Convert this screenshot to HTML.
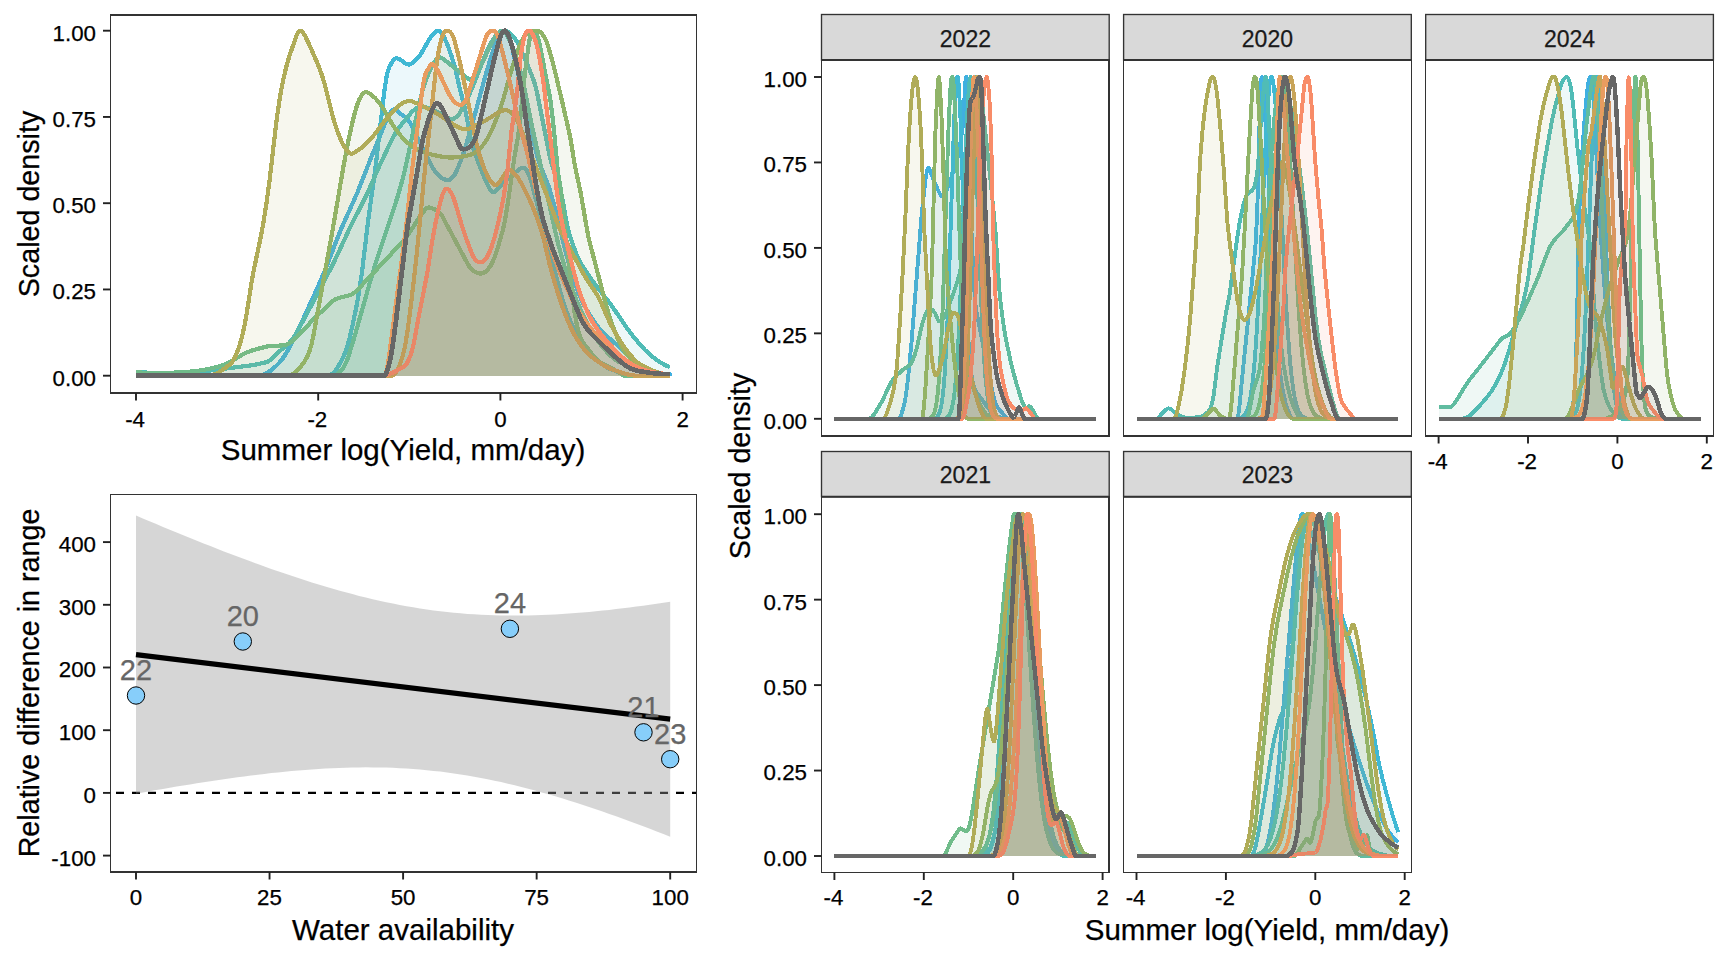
<!DOCTYPE html>
<html><head><meta charset="utf-8"><title>Summer yield density</title>
<style>
html,body{margin:0;padding:0;background:#fff;}
body{width:1728px;height:960px;overflow:hidden;}
svg{display:block;}
text{font-family:"Liberation Sans", sans-serif;fill:#000;stroke:#000;stroke-width:0.25px;}
.tick{font-size:22.3px;}
.title{font-size:29.5px;}
.rtitle{font-size:28.7px;}
.strip{font-size:23px;fill:#1a1a1a;stroke:#1a1a1a;}
.lab{font-size:29px;fill:#666;stroke:#666;}
</style></head><body>
<svg width="1728" height="960" viewBox="0 0 1728 960">
<rect x="0" y="0" width="1728" height="960" fill="#fff"/>
<g id="density-all">
<clipPath id="cpA"><rect x="110.5" y="15" width="586" height="378"/></clipPath><g clip-path="url(#cpA)" shape-rendering="crispEdges">
<path d="M136,375.7L136,375.7 259,375.7 262.2,375.1 264.4,374.3 266.5,373.3 270.8,370.5 275.1,366.9 279.4,362.6 282.6,358.6 285.8,353.8 289,348.3 299.7,326.5 313.6,296.3 321.1,279.5 325.4,269.4 337.1,239 341.4,228.4 357.5,192.3 371.4,156.9 385.3,122.7 388.5,115.7 390.6,112.1 391.7,110.8 392.8,109.8 393.8,109.3 394.9,109.2 396,109.6 401.3,114.5 405.6,117.3 407.7,119.3 409.9,122.5 430.2,163.1 432.3,167.1 434.5,170.4 436.6,173.2 438.8,175.5 440.9,177.3 443,178.7 445.2,179.6 447.3,180.2 448.4,180.2 449.5,179.8 450.5,179.3 451.6,178.4 453.7,175.9 454.8,174.3 456.9,170.2 461.2,159.6 464.4,150.4 471.9,125.1 485.8,74.4 490.1,60.1 494.4,46.8 496.5,41.7 500.8,33.4 501.9,31.9 503,31 504,30.7 505.1,31 506.2,31.8 507.2,33.2 508.3,35.2 509.4,37.8 510.4,41.2 516.9,67.7 530.8,130.3 537.2,156.2 540.4,166.1 546.8,181.3 550,190.3 555.4,209.8 566.1,253.6 570.4,269.5 572.5,276.4 575.7,285.7 578.9,293.9 582.1,301.2 586.4,309.4 591.7,317.9 597.1,325.7 601.4,331 605.7,335.2 618.5,346.1 631.3,358.9 635.6,362.8 639.9,366 644.2,368.7 648.4,370.9 652.7,372.7 657,373.9 661.3,374.5 665.6,374.6 669.8,374.3 669.8,375.7" fill="#40B0E0" fill-opacity="0.1" stroke="#40B0E0" stroke-width="4.2" stroke-linejoin="round"/>
<path d="M136,375.7L136,375.7 327.5,375.7 328.6,375.6 330.7,374.8 332.8,373.3 335,371.1 338.2,366.6 341.4,360.8 344.6,353.8 346.8,348.2 348.9,340.8 352.1,327.3 356.4,306.7 358.5,295.3 361.7,274.4 368.2,220.2 375.6,166.6 384.2,92.3 386.3,78.1 387.4,73.1 388.5,69.3 389.6,66.5 391.7,62.6 393.8,59.8 394.9,58.9 396,58.4 397,58.3 399.2,59 405.6,63.5 407.7,64.4 408.8,64.5 409.9,64.3 413.1,62.5 415.2,60.7 417.4,58.5 420.6,54.4 422.7,50.9 429.1,39.4 432.3,34.8 434.5,32.6 435.6,31.7 437.7,30.8 438.8,30.7 439.8,31.1 440.9,32 442,33.3 444.1,37 448.4,47.2 451.6,56.3 453.7,63.2 455.9,71.2 459.1,85.6 464.4,106.5 466.6,116.7 469.8,134.5 471.9,144 475.1,154 481.6,171 486.9,183.6 490.1,189.6 491.2,191 492.3,191.9 493.3,192.4 494.4,192.2 497.6,189.4 505.1,181.7 510.4,176.7 516.9,171.2 520.1,168.6 521.1,168 522.2,167.7 523.3,167.7 524.3,168.1 525.4,168.9 526.5,170.2 527.6,171.9 528.6,174.1 530.8,180.1 531.8,183.9 559.7,289.6 563.9,304.1 568.2,315.9 572.5,325.8 577.8,336.2 583.2,344.9 586.4,349.3 589.6,353.1 595,358.3 600.3,363 604.6,366.1 607.8,368 616.4,371.3 621.7,373 626,374.2 630.3,375.1 633.5,375.5 636.7,375.7 669.8,375.7 669.8,375.7" fill="#40B8D4" fill-opacity="0.1" stroke="#40B8D4" stroke-width="4.2" stroke-linejoin="round"/>
<path d="M136,375.7L136,372.2 152,372.8 166,373 178.8,372.8 191.6,372.2 201.3,371.4 210.9,370.4 250.5,365.4 256.9,364.4 264.4,362.7 267.6,361.8 268.7,361.2 271.9,358.7 278.3,352.3 287.9,344.2 291.1,340.8 293.3,338 297.5,331 304,319.2 331.8,266.5 337.1,255.5 350,227.6 363.9,200.3 368.2,191.4 379.9,164.9 389.6,144.3 393.8,135.9 398.1,129.1 405.6,119.3 410.9,113 413.1,110.8 415.2,109 417.4,107.7 419.5,106.8 421.6,106.6 423.8,106.9 425.9,107.4 429.1,108.5 437.7,112.3 446.3,117.2 449.5,118.7 451.6,119 453.7,118.6 455.9,117.4 456.9,116.5 459.1,114 461.2,110.6 464.4,104.8 467.6,98.2 474.1,83.5 485.8,53.5 488,48.7 490.1,44.6 493.3,39.3 495.5,36.4 497.6,33.9 499.7,32 500.8,31.4 503,30.7 504,30.7 505.1,30.8 507.2,31.5 510.4,33.6 513.7,36.9 515.8,39.8 516.9,41.5 520.1,48 525.4,60 530.8,72.9 534,81.3 536.1,88.7 537.2,93.4 550,157.6 552.2,165.4 558.6,183.2 560.7,190.9 562.9,201.5 566.1,219.8 568.2,230 570.4,237.2 573.6,246.7 576.8,254.9 578.9,259.6 581,263.7 583.2,267.2 592.8,281.2 598.2,288.4 612.1,306.2 626,326.8 632.4,335.3 637.8,341.9 645.2,350.2 649.5,354.2 653.8,357.8 658.1,360.9 662.4,363.6 666.6,365.8 669.8,367.1 669.8,375.7Z" fill="#50BCB6" fill-opacity="0.1"/>
<path d="M136,372.2 152,372.8 166,373 178.8,372.8 191.6,372.2 201.3,371.4 210.9,370.4 250.5,365.4 256.9,364.4 264.4,362.7 267.6,361.8 268.7,361.2 271.9,358.7 278.3,352.3 287.9,344.2 291.1,340.8 293.3,338 297.5,331 304,319.2 331.8,266.5 337.1,255.5 350,227.6 363.9,200.3 368.2,191.4 379.9,164.9 389.6,144.3 393.8,135.9 398.1,129.1 405.6,119.3 410.9,113 413.1,110.8 415.2,109 417.4,107.7 419.5,106.8 421.6,106.6 423.8,106.9 425.9,107.4 429.1,108.5 437.7,112.3 446.3,117.2 449.5,118.7 451.6,119 453.7,118.6 455.9,117.4 456.9,116.5 459.1,114 461.2,110.6 464.4,104.8 467.6,98.2 474.1,83.5 485.8,53.5 488,48.7 490.1,44.6 493.3,39.3 495.5,36.4 497.6,33.9 499.7,32 500.8,31.4 503,30.7 504,30.7 505.1,30.8 507.2,31.5 510.4,33.6 513.7,36.9 515.8,39.8 516.9,41.5 520.1,48 525.4,60 530.8,72.9 534,81.3 536.1,88.7 537.2,93.4 550,157.6 552.2,165.4 558.6,183.2 560.7,190.9 562.9,201.5 566.1,219.8 568.2,230 570.4,237.2 573.6,246.7 576.8,254.9 578.9,259.6 581,263.7 583.2,267.2 592.8,281.2 598.2,288.4 612.1,306.2 626,326.8 632.4,335.3 637.8,341.9 645.2,350.2 649.5,354.2 653.8,357.8 658.1,360.9 662.4,363.6 666.6,365.8 669.8,367.1" fill="none" stroke="#50BCB6" stroke-width="4.2" stroke-linejoin="round"/>
<path d="M136,375.7L136,375.7 331.8,375.7 333.9,375.5 336.1,374.8 338.2,373.6 339.3,372.7 341.4,370.4 342.5,369 344.6,365.4 346.8,360.8 348.9,355.2 355.3,334 370.3,281 374.6,266.6 393.8,208.7 398.1,195.1 402.4,179.9 405.6,166.8 414.2,126.9 421.6,93.8 423.8,86.2 425.9,79.8 430.2,69.5 433.4,63.4 435.6,60.3 437.7,58.3 438.8,57.8 439.8,57.5 440.9,57.7 442,58.2 449.5,63.8 464.4,75.9 468.7,79.1 469.8,79.5 470.9,79.4 471.9,78.9 474.1,76.8 477.3,71.7 483.7,59.7 491.2,43.7 494.4,37.8 496.5,34.7 498.7,32.3 500.8,31 501.9,30.7 503,30.8 504,31.4 505.1,32.4 506.2,33.8 508.3,37.6 510.4,42.3 514.7,53.1 516.9,59.1 519,65.9 521.1,73.7 523.3,82.9 531.8,125.2 555.4,232.2 558.6,245.6 563.9,264.4 570.4,283.9 573.6,292.7 576.8,300.9 582.1,313 586.4,321.6 590.7,329.5 595,336.7 598.2,341.4 602.4,346.9 607.8,353 612.1,357.1 615.3,359.7 618.5,361.7 623.8,364.2 638.8,369.8 644.2,372 646.3,373 650.6,375.6 669.8,375.7 669.8,375.7" fill="#60BCA0" fill-opacity="0.1" stroke="#60BCA0" stroke-width="4.2" stroke-linejoin="round"/>
<path d="M136,375.7L136,372.2 144.6,372.8 153.1,373 162.7,373 172.4,372.7 184.1,372.1 191.6,371.5 199.1,370.6 206.6,369.3 216.2,367.2 221.6,365.6 224.8,364.5 230.1,361.9 244.1,353.7 247.3,352.2 251.5,350.7 259,348.5 268.7,346.1 271.9,345.7 279.4,345.6 282.6,345.3 285.8,344.7 289,343.4 292.2,341.3 296.5,337.5 300.8,333.1 312.5,320.2 324.3,308.9 332.8,301 335,299.6 338.2,298.1 341.4,297.2 347.8,295.8 351,294.7 354.2,292.8 356.4,291 373.5,272.9 403.5,240.6 405.6,238 408.8,233.6 418.4,218.8 422.7,212.7 425.9,208.8 427,208 428.1,207.6 429.1,207.5 431.3,208.1 434.5,209.3 436.6,210.4 438.8,212 439.8,213 442,215.8 467.6,263.7 469.8,267.3 470.9,268.7 471.9,269.8 474.1,271.4 476.2,272.4 479.4,273.5 480.5,273.6 482.6,273.3 483.7,272.9 485.8,271.5 488,269.4 490.1,266.5 492.3,262.7 494.4,257.6 497.6,248.3 500.8,237.4 503,229.4 505.1,219.8 508.3,200.1 514.7,155.4 517.9,137.4 520.1,119.8 524.3,79 528.6,45.1 529.7,39.2 530.8,34.8 531.8,32 532.9,30.8 534,30.8 535,31.6 536.1,33.1 537.2,35.4 538.3,38.5 539.3,42.5 550,97.4 552.2,114.1 554.3,133.9 557.5,167.6 558.6,176.2 560.7,189.3 561.8,197.2 570.4,276.8 573.6,304.6 574.6,312.3 576.8,324.4 577.8,329.1 580,336.1 582.1,340.9 584.3,344.2 593.9,356.4 597.1,359.9 599.2,361.6 601.4,362.9 617.4,371.4 619.6,372.8 622.8,375.3 623.8,375.7 669.8,375.7 669.8,375.7Z" fill="#70BC8A" fill-opacity="0.1"/>
<path d="M136,372.2 144.6,372.8 153.1,373 162.7,373 172.4,372.7 184.1,372.1 191.6,371.5 199.1,370.6 206.6,369.3 216.2,367.2 221.6,365.6 224.8,364.5 230.1,361.9 244.1,353.7 247.3,352.2 251.5,350.7 259,348.5 268.7,346.1 271.9,345.7 279.4,345.6 282.6,345.3 285.8,344.7 289,343.4 292.2,341.3 296.5,337.5 300.8,333.1 312.5,320.2 324.3,308.9 332.8,301 335,299.6 338.2,298.1 341.4,297.2 347.8,295.8 351,294.7 354.2,292.8 356.4,291 373.5,272.9 403.5,240.6 405.6,238 408.8,233.6 418.4,218.8 422.7,212.7 425.9,208.8 427,208 428.1,207.6 429.1,207.5 431.3,208.1 434.5,209.3 436.6,210.4 438.8,212 439.8,213 442,215.8 467.6,263.7 469.8,267.3 470.9,268.7 471.9,269.8 474.1,271.4 476.2,272.4 479.4,273.5 480.5,273.6 482.6,273.3 483.7,272.9 485.8,271.5 488,269.4 490.1,266.5 492.3,262.7 494.4,257.6 497.6,248.3 500.8,237.4 503,229.4 505.1,219.8 508.3,200.1 514.7,155.4 517.9,137.4 520.1,119.8 524.3,79 528.6,45.1 529.7,39.2 530.8,34.8 531.8,32 532.9,30.8 534,30.8 535,31.6 536.1,33.1 537.2,35.4 538.3,38.5 539.3,42.5 550,97.4 552.2,114.1 554.3,133.9 557.5,167.6 558.6,176.2 560.7,189.3 561.8,197.2 570.4,276.8 573.6,304.6 574.6,312.3 576.8,324.4 577.8,329.1 580,336.1 582.1,340.9 584.3,344.2 593.9,356.4 597.1,359.9 599.2,361.6 601.4,362.9 617.4,371.4 619.6,372.8 622.8,375.3 623.8,375.7 669.8,375.7" fill="none" stroke="#70BC8A" stroke-width="4.2" stroke-linejoin="round"/>
<path d="M136,375.7L136,375.7 287.9,375.7 289,375.6 291.1,375.1 293.3,373.9 295.4,372.2 297.5,370.1 300.8,366.3 304,362.1 306.1,358.8 308.2,354.4 309.3,351.6 311.5,344.4 313.6,334.6 326.4,264.3 333.9,222.6 343.5,166.2 347.8,143.5 352.1,123.8 355.3,111 356.4,107.3 358.5,101.3 359.6,98.9 361.7,95.2 362.8,93.9 363.9,93 364.9,92.4 366,92.2 367.1,92.3 368.2,92.7 370.3,94.1 374.6,97.5 377.8,100.9 381,105.1 384.2,110.2 392.8,125 396,129.6 400.2,135.1 404.5,139.9 407.7,143 412,146.1 417.4,149.3 423.8,152.2 430.2,154.2 438.8,156.2 447.3,157.4 452.7,157.5 459.1,157 466.6,155.7 471.9,154.3 474.1,153.2 477.3,150.9 480.5,147.9 483.7,144.2 485.8,141.1 488,137.5 490.1,133.4 493.3,126.5 497.6,116 500.8,107 504,96.7 510.4,73.5 513.7,62.7 517.9,49.9 521.1,42 522.2,39.9 524.3,36.6 525.4,35.2 527.6,33.2 528.6,32.5 530.8,31.4 532.9,30.9 535,30.7 537.2,30.8 538.3,31.1 540.4,32.2 542.5,34.3 544.7,37.6 546.8,42.4 547.9,45.4 552.2,60.4 555.4,73.1 562.9,104.7 570.4,138 574.6,164.1 581,194.5 586.4,226 588.5,237.2 589.6,241.9 605.7,303.7 609.9,317.9 614.2,330 617.4,337.9 619.6,342.5 621.7,346.7 623.8,350.3 626,353.4 628.1,356 631.3,359.1 635.6,362.9 639.9,366 643.1,368 646.3,369.6 651.7,371.7 657,373.5 661.3,374.6 665.6,375.4 669.8,375.7 669.8,375.7" fill="#90B468" fill-opacity="0.1" stroke="#90B468" stroke-width="4.2" stroke-linejoin="round"/>
<path d="M136,375.7L136,375.7 207.7,375.7 210.9,375.4 214.1,374.5 218.4,372.5 222.7,369.9 229.1,365.2 231.2,363.1 232.3,361.8 234.4,358.2 235.5,356.1 237.6,350.9 239.8,344.5 241.9,336.8 244.1,327.7 246.2,316.6 251.5,282.6 253.7,270.3 260.1,240.3 263.3,223.5 266.5,202.8 269.7,179.4 275.1,132.7 277.2,115.6 280.4,94.4 282.6,82.8 285.8,68.8 287.9,60.9 290.1,53.9 296.5,35.8 297.5,33.5 298.6,31.7 299.7,30.7 300.8,30.7 301.8,31.1 302.9,32.4 305,35.7 308.2,42.3 317.9,64.3 321.1,72.7 323.2,79.2 325.4,87 332.8,116.9 335,123.8 338.2,133.2 341.4,141.1 344.6,147.4 346.8,150.5 347.8,151.7 350,153.3 351,153.6 352.1,153.6 354.2,152.7 359.6,149.3 364.9,144.9 369.2,140.7 372.4,137.1 386.3,119 391.7,112.9 397,107.5 400.2,104.7 403.5,102.6 406.7,101.3 408.8,100.9 409.9,101 412,101.4 416.3,103.1 421.6,105.5 428.1,108.8 438.8,114.7 451.6,123.3 455.9,125.9 460.2,128 462.3,128.8 464.4,129.3 467.6,129.1 469.8,128.5 471.9,127.6 479.4,123.5 485.8,120.3 497.6,113 500.8,111.3 503,110.5 505.1,110 507.2,110.4 509.4,111.4 511.5,113.2 513.7,115.6 516.9,120.5 519,124.6 522.2,131.8 540.4,178.7 555.4,218.1 558.6,226.2 560.7,231.1 563.9,237.5 584.3,275.3 587.5,280.4 595,291.5 598.2,296.9 601.4,303.5 606.7,315.8 609.9,322.8 614.2,330.8 618.5,338.2 623.8,346.5 629.2,353.7 634.5,359.8 638.8,363.6 641,365 644.2,366.7 652.7,370.5 659.1,372.7 665.6,374.6 669.8,375.7 669.8,375.7" fill="#B0AC58" fill-opacity="0.1" stroke="#B0AC58" stroke-width="4.2" stroke-linejoin="round"/>
<path d="M136,375.7L136,375.7 390.6,375.7 391.7,375.6 392.8,375.3 393.8,374.6 394.9,373.6 397,370.6 399.2,366.1 402.4,356.9 404.5,348.3 405.6,342.8 407.7,329.6 410.9,305.5 416.3,258.3 419.5,226.3 423.8,180.1 435.6,71.8 437.7,56.5 438.8,50.4 440.9,40.8 442,37.3 443,34.6 444.1,32.6 445.2,31.3 446.3,30.7 447.3,30.7 449.5,31.5 450.5,32.4 451.6,33.7 452.7,35.6 453.7,38.2 454.8,41.6 458,54 461.2,67.9 468.7,104.2 474.1,132.4 476.2,142.7 479.4,154.6 482.6,164.4 484.8,170.1 488,177 490.1,180.5 492.3,183.1 494.4,184.8 495.5,185 496.5,184.7 497.6,184 498.7,183 500.8,180.1 504,175.1 506.2,172.1 507.2,171 508.3,170.2 509.4,169.8 510.4,169.9 511.5,170.6 514.7,173.7 517.9,177.7 522.2,184.7 526.5,193.2 531.8,204.8 536.1,215.3 539.3,224.4 541.5,231.2 543.6,238.9 550,265.9 552.2,274 557.5,292.1 562.9,308.1 567.1,319.4 570.4,326.8 573.6,333.3 577.8,340.5 581,345.2 584.3,349.5 587.5,353.1 590.7,356.1 596,360.1 601.4,363.8 606.7,367 611,368.9 624.9,373.7 629.2,374.8 633.5,375.5 636.7,375.7 669.8,375.7 669.8,375.7" fill="#C8A458" fill-opacity="0.1" stroke="#C8A458" stroke-width="4.2" stroke-linejoin="round"/>
<path d="M136,375.7L136,375.7 385.3,375.7 386.3,372 388.5,360.5 404.5,239.3 406.7,221.3 412,170.6 421.6,95.5 423.8,80.7 424.9,75.8 425.9,72.8 430.2,65.4 431.3,64 432.3,63.7 434.5,65.7 437.7,70.5 440.9,76.7 448.4,93 451.6,98.4 454.8,102.2 456.9,103.8 459.1,104.8 460.2,105 461.2,104.9 462.3,104.4 463.4,103.6 464.4,102.4 465.5,100.7 467.6,95.8 485.8,37.4 486.9,35 488,33.3 489,32.1 491.2,30.7 492.3,30.7 494.4,30.7 495.5,31.7 496.5,33.2 497.6,35.5 498.7,38.6 501.9,49.7 505.1,62.3 510.4,84.6 519,123.1 526.5,150.4 541.5,213.3 545.7,230 549,241.4 554.3,257.9 559.7,272 566.1,286.7 573.6,302.2 577.8,309.9 582.1,316.7 589.6,326.9 595,333.5 599.2,338.1 605.7,344.1 613.1,350.5 620.6,356.4 627.1,361 633.5,365.1 638.8,368 644.2,370.2 649.5,371.9 655.9,373.2 662.4,373.8 669.8,374 669.8,375.7Z" fill="#E89C60" fill-opacity="0.1"/>
<path d="M136,375.7 385.3,375.7 386.3,372 388.5,360.5 404.5,239.3 406.7,221.3 412,170.6 421.6,95.5 423.8,80.7 424.9,75.8 425.9,72.8 430.2,65.4 431.3,64 432.3,63.7 434.5,65.7 437.7,70.5 440.9,76.7 448.4,93 451.6,98.4 454.8,102.2 456.9,103.8 459.1,104.8 460.2,105 461.2,104.9 462.3,104.4 463.4,103.6 464.4,102.4 465.5,100.7 467.6,95.8 485.8,37.4 486.9,35 488,33.3 489,32.1 491.2,30.7 492.3,30.7 494.4,30.7 495.5,31.7 496.5,33.2 497.6,35.5 498.7,38.6 501.9,49.7 505.1,62.3 510.4,84.6 519,123.1 526.5,150.4 541.5,213.3 545.7,230 549,241.4 554.3,257.9 559.7,272 566.1,286.7 573.6,302.2 577.8,309.9 582.1,316.7 589.6,326.9 595,333.5 599.2,338.1 605.7,344.1 613.1,350.5 620.6,356.4 627.1,361 633.5,365.1 638.8,368 644.2,370.2 649.5,371.9 655.9,373.2 662.4,373.8 669.8,374" fill="none" stroke="#E89C60" stroke-width="4.2" stroke-linejoin="round"/>
<path d="M136,375.7L136,375.7 382.1,375.7 384.2,375.5 386.3,375.1 390.6,373.6 393.8,372.1 401.3,368.2 404.5,366 406.7,363.5 408.8,359.7 410.9,354.2 413.1,346.4 415.2,335.9 418.4,318 427,274.6 432.3,240.4 435.6,222.7 437.7,212.8 440.9,199.8 443,193.3 444.1,191 445.2,189.5 446.3,188.8 447.3,188.8 448.4,189.4 449.5,190.4 450.5,191.8 452.7,195.9 454.8,201.7 462.3,226.9 466.6,239.7 471.9,253.8 473,256 475.1,259.4 477.3,261.4 479.4,262.3 481.6,262.2 482.6,261.9 483.7,261.2 484.8,260.2 486.9,257.3 489,253.2 491.2,248 494.4,237.9 497.6,225.5 500.8,211.4 504,194.7 507.2,173 511.5,131 516.9,94.4 520.1,61.4 521.1,53.3 522.2,46.8 523.3,41.4 524.3,37.1 525.4,34 526.5,31.8 527.6,30.7 529.7,30.7 530.8,31.5 532.9,34.5 535,39.4 536.1,42.7 538.3,51.6 541.5,69.8 543.6,83.9 556.4,188.3 558.6,203.3 560.7,215.9 562.9,226.8 565,236.3 574.6,274.7 577.8,286.2 580,293 582.1,299.1 584.3,304.5 588.5,314.2 591.7,320.5 595,325.8 599.2,331.8 604.6,338.7 608.9,343.7 618.5,353.8 624.9,359.6 629.2,362.8 634.5,366 638.8,368 644.2,369.9 651.7,371.9 658.1,373.1 664.5,373.8 669.8,374 669.8,375.7Z" fill="#F88C68" fill-opacity="0.1"/>
<path d="M136,375.7 382.1,375.7 384.2,375.5 386.3,375.1 390.6,373.6 393.8,372.1 401.3,368.2 404.5,366 406.7,363.5 408.8,359.7 410.9,354.2 413.1,346.4 415.2,335.9 418.4,318 427,274.6 432.3,240.4 435.6,222.7 437.7,212.8 440.9,199.8 443,193.3 444.1,191 445.2,189.5 446.3,188.8 447.3,188.8 448.4,189.4 449.5,190.4 450.5,191.8 452.7,195.9 454.8,201.7 462.3,226.9 466.6,239.7 471.9,253.8 473,256 475.1,259.4 477.3,261.4 479.4,262.3 481.6,262.2 482.6,261.9 483.7,261.2 484.8,260.2 486.9,257.3 489,253.2 491.2,248 494.4,237.9 497.6,225.5 500.8,211.4 504,194.7 507.2,173 511.5,131 516.9,94.4 520.1,61.4 521.1,53.3 522.2,46.8 523.3,41.4 524.3,37.1 525.4,34 526.5,31.8 527.6,30.7 529.7,30.7 530.8,31.5 532.9,34.5 535,39.4 536.1,42.7 538.3,51.6 541.5,69.8 543.6,83.9 556.4,188.3 558.6,203.3 560.7,215.9 562.9,226.8 565,236.3 574.6,274.7 577.8,286.2 580,293 582.1,299.1 584.3,304.5 588.5,314.2 591.7,320.5 595,325.8 599.2,331.8 604.6,338.7 608.9,343.7 618.5,353.8 624.9,359.6 629.2,362.8 634.5,366 638.8,368 644.2,369.9 651.7,371.9 658.1,373.1 664.5,373.8 669.8,374" fill="none" stroke="#F88C68" stroke-width="4.2" stroke-linejoin="round"/>
<path d="M136,375.7L136,375.7 384.2,375.7 385.3,375.4 387.4,370.1 389.6,362.3 391.7,351.6 392.8,344.9 396,320.8 405.6,241.2 407.7,225.6 409.9,212.3 416.3,177.3 420.6,151.4 422.7,139.8 424.9,131.4 429.1,117.7 432.3,109.2 434.5,104.9 435.6,103.6 436.6,103.2 437.7,103.3 438.8,103.9 439.8,104.9 440.9,106.3 443,110.1 451.6,128.2 459.1,144.6 460.2,146.9 461.2,148.4 462.3,149.1 463.4,149.2 466.6,148.8 468.7,147.8 470.9,145.9 473,143 474.1,141 476.2,135.7 477.3,132.2 481.6,114.3 493.3,62.9 497.6,46.1 499.7,38.5 500.8,35.5 501.9,33.2 503,31.6 504,30.8 505.1,30.7 506.2,31.5 507.2,33 508.3,35 509.4,37.6 511.5,44.2 513.7,52.2 516.9,65.5 520.1,80.5 523.3,99.9 527.6,131.4 535,178.1 539.3,203.2 542.5,217.8 544.7,225.3 546.8,231.9 553.2,250.2 573.6,301.2 581,319.1 583.2,323.1 586.4,328 589.6,331.9 592.8,335.3 602.4,344.9 616.4,358 622.8,363.5 627.1,366.6 630.3,368.3 633.5,369.6 636.7,370.6 641,371.4 650.6,372.9 658.1,373.7 664.5,374.1 669.8,374 669.8,375.7Z" fill="#666666" fill-opacity="0.1"/>
<path d="M136,375.7 384.2,375.7 385.3,375.4 387.4,370.1 389.6,362.3 391.7,351.6 392.8,344.9 396,320.8 405.6,241.2 407.7,225.6 409.9,212.3 416.3,177.3 420.6,151.4 422.7,139.8 424.9,131.4 429.1,117.7 432.3,109.2 434.5,104.9 435.6,103.6 436.6,103.2 437.7,103.3 438.8,103.9 439.8,104.9 440.9,106.3 443,110.1 451.6,128.2 459.1,144.6 460.2,146.9 461.2,148.4 462.3,149.1 463.4,149.2 466.6,148.8 468.7,147.8 470.9,145.9 473,143 474.1,141 476.2,135.7 477.3,132.2 481.6,114.3 493.3,62.9 497.6,46.1 499.7,38.5 500.8,35.5 501.9,33.2 503,31.6 504,30.8 505.1,30.7 506.2,31.5 507.2,33 508.3,35 509.4,37.6 511.5,44.2 513.7,52.2 516.9,65.5 520.1,80.5 523.3,99.9 527.6,131.4 535,178.1 539.3,203.2 542.5,217.8 544.7,225.3 546.8,231.9 553.2,250.2 573.6,301.2 581,319.1 583.2,323.1 586.4,328 589.6,331.9 592.8,335.3 602.4,344.9 616.4,358 622.8,363.5 627.1,366.6 630.3,368.3 633.5,369.6 636.7,370.6 641,371.4 650.6,372.9 658.1,373.7 664.5,374.1 669.8,374" fill="none" stroke="#666666" stroke-width="4.7" stroke-linejoin="round"/>
</g>
<rect x="110.5" y="15" width="586.0" height="378" fill="none" stroke="#333333" stroke-width="1.5" shape-rendering="crispEdges"/>
<line x1="103.0" y1="375.7" x2="110.5" y2="375.7" stroke="#222" stroke-width="1.9"/>
<text class="tick" x="96.0" y="385.6" text-anchor="end">0.00</text>
<line x1="103.0" y1="289.45" x2="110.5" y2="289.45" stroke="#222" stroke-width="1.9"/>
<text class="tick" x="96.0" y="299.3" text-anchor="end">0.25</text>
<line x1="103.0" y1="203.2" x2="110.5" y2="203.2" stroke="#222" stroke-width="1.9"/>
<text class="tick" x="96.0" y="213.1" text-anchor="end">0.50</text>
<line x1="103.0" y1="116.94999999999999" x2="110.5" y2="116.94999999999999" stroke="#222" stroke-width="1.9"/>
<text class="tick" x="96.0" y="126.8" text-anchor="end">0.75</text>
<line x1="103.0" y1="30.69999999999999" x2="110.5" y2="30.69999999999999" stroke="#222" stroke-width="1.9"/>
<text class="tick" x="96.0" y="40.6" text-anchor="end">1.00</text>
<line x1="136.0" y1="393" x2="136.0" y2="400.5" stroke="#222" stroke-width="1.9"/>
<text class="tick" x="135.1" y="426.9" text-anchor="middle">-4</text>
<line x1="318.2" y1="393" x2="318.2" y2="400.5" stroke="#222" stroke-width="1.9"/>
<text class="tick" x="317.3" y="426.9" text-anchor="middle">-2</text>
<line x1="500.4" y1="393" x2="500.4" y2="400.5" stroke="#222" stroke-width="1.9"/>
<text class="tick" x="500.4" y="426.9" text-anchor="middle">0</text>
<line x1="682.5999999999999" y1="393" x2="682.5999999999999" y2="400.5" stroke="#222" stroke-width="1.9"/>
<text class="tick" x="682.6" y="426.9" text-anchor="middle">2</text>
<text class="title" x="403" y="459.8" text-anchor="middle">Summer log(Yield, mm/day)</text>
<text class="rtitle" transform="translate(38.5,204) rotate(-90)" text-anchor="middle">Scaled density</text>
</g>
<g id="regression">
<line x1="110.5" y1="792.9" x2="696.5" y2="792.9" stroke="#000" stroke-width="2.2" stroke-dasharray="8 8" stroke-dashoffset="10.5"/>
<path d="M136.0,515.5 L142.8,518.4 L149.5,521.2 L156.3,524.1 L163.0,526.9 L169.8,529.7 L176.6,532.5 L183.3,535.3 L190.1,538.0 L196.9,540.7 L203.6,543.4 L210.4,546.1 L217.1,548.7 L223.9,551.4 L230.7,554.0 L237.4,556.5 L244.2,559.1 L251.0,561.6 L257.7,564.1 L264.5,566.5 L271.2,568.9 L278.0,571.2 L284.8,573.6 L291.5,575.8 L298.3,578.1 L305.1,580.3 L311.8,582.4 L318.6,584.5 L325.3,586.5 L332.1,588.5 L338.9,590.4 L345.6,592.3 L352.4,594.1 L359.1,595.9 L365.9,597.5 L372.7,599.2 L379.4,600.7 L386.2,602.2 L393.0,603.6 L399.7,604.9 L406.5,606.2 L413.2,607.3 L420.0,608.4 L426.8,609.4 L433.5,610.4 L440.3,611.2 L447.1,612.0 L453.8,612.7 L460.6,613.3 L467.3,613.9 L474.1,614.3 L480.9,614.7 L487.6,615.1 L494.4,615.3 L501.1,615.5 L507.9,615.6 L514.7,615.6 L521.4,615.5 L528.2,615.4 L535.0,615.3 L541.7,615.0 L548.5,614.7 L555.2,614.4 L562.0,614.0 L568.8,613.6 L575.5,613.0 L582.3,612.5 L589.1,611.9 L595.8,611.3 L602.6,610.6 L609.3,609.9 L616.1,609.1 L622.9,608.3 L629.6,607.5 L636.4,606.6 L643.2,605.7 L649.9,604.8 L656.7,603.8 L663.4,602.8 L670.2,601.8 L670.2,836.7 L663.4,834.0 L656.7,831.4 L649.9,828.8 L643.2,826.2 L636.4,823.7 L629.6,821.2 L622.9,818.7 L616.1,816.3 L609.3,813.9 L602.6,811.5 L595.8,809.2 L589.1,806.9 L582.3,804.7 L575.5,802.5 L568.8,800.4 L562.0,798.3 L555.2,796.3 L548.5,794.3 L541.7,792.4 L535.0,790.5 L528.2,788.7 L521.4,786.9 L514.7,785.3 L507.9,783.7 L501.1,782.1 L494.4,780.7 L487.6,779.3 L480.9,777.9 L474.1,776.7 L467.3,775.5 L460.6,774.4 L453.8,773.4 L447.1,772.5 L440.3,771.6 L433.5,770.9 L426.8,770.2 L420.0,769.5 L413.2,769.0 L406.5,768.5 L399.7,768.2 L393.0,767.8 L386.2,767.6 L379.4,767.4 L372.7,767.4 L365.9,767.3 L359.1,767.4 L352.4,767.5 L345.6,767.7 L338.9,767.9 L332.1,768.2 L325.3,768.5 L318.6,768.9 L311.8,769.4 L305.1,769.9 L298.3,770.5 L291.5,771.1 L284.8,771.7 L278.0,772.4 L271.2,773.1 L264.5,773.9 L257.7,774.7 L251.0,775.5 L244.2,776.4 L237.4,777.3 L230.7,778.2 L223.9,779.2 L217.1,780.2 L210.4,781.2 L203.6,782.2 L196.9,783.3 L190.1,784.4 L183.3,785.5 L176.6,786.6 L169.8,787.8 L163.0,788.9 L156.3,790.1 L149.5,791.3 L142.8,792.6 L136.0,793.8 Z" fill="#999999" fill-opacity="0.4"/>
<line x1="136.0" y1="654.6" x2="670.2" y2="719.2" stroke="#000" stroke-width="5.3"/>
<circle cx="136.0" cy="695.5" r="8.7" fill="#87CEFA" stroke="#000" stroke-width="1"/>
<circle cx="242.8" cy="641.5" r="8.7" fill="#87CEFA" stroke="#000" stroke-width="1"/>
<circle cx="509.9" cy="628.8" r="8.7" fill="#87CEFA" stroke="#000" stroke-width="1"/>
<circle cx="643.5" cy="732.3" r="8.7" fill="#87CEFA" stroke="#000" stroke-width="1"/>
<circle cx="670.2" cy="759.2" r="8.7" fill="#87CEFA" stroke="#000" stroke-width="1"/>
<text class="lab" x="136.0" y="680.0" text-anchor="middle">22</text>
<text class="lab" x="242.8" y="626.0" text-anchor="middle">20</text>
<text class="lab" x="509.9" y="613.3" text-anchor="middle">24</text>
<text class="lab" x="643.5" y="716.8" text-anchor="middle">21</text>
<text class="lab" x="670.2" y="743.7" text-anchor="middle">23</text>
<rect x="110.5" y="494.5" width="586.0" height="377.5" fill="none" stroke="#333333" stroke-width="1.5" shape-rendering="crispEdges"/>
<line x1="103.0" y1="855.6" x2="110.5" y2="855.6" stroke="#222" stroke-width="1.9"/>
<text class="tick" x="96.0" y="865.5" text-anchor="end">-100</text>
<line x1="103.0" y1="792.9" x2="110.5" y2="792.9" stroke="#222" stroke-width="1.9"/>
<text class="tick" x="96.0" y="802.8" text-anchor="end">0</text>
<line x1="103.0" y1="730.1999999999999" x2="110.5" y2="730.1999999999999" stroke="#222" stroke-width="1.9"/>
<text class="tick" x="96.0" y="740.1" text-anchor="end">100</text>
<line x1="103.0" y1="667.5" x2="110.5" y2="667.5" stroke="#222" stroke-width="1.9"/>
<text class="tick" x="96.0" y="677.4" text-anchor="end">200</text>
<line x1="103.0" y1="604.8" x2="110.5" y2="604.8" stroke="#222" stroke-width="1.9"/>
<text class="tick" x="96.0" y="614.7" text-anchor="end">300</text>
<line x1="103.0" y1="542.0999999999999" x2="110.5" y2="542.0999999999999" stroke="#222" stroke-width="1.9"/>
<text class="tick" x="96.0" y="552.0" text-anchor="end">400</text>
<line x1="136.0" y1="872" x2="136.0" y2="879.5" stroke="#222" stroke-width="1.9"/>
<text class="tick" x="136.0" y="905.0" text-anchor="middle">0</text>
<line x1="269.54999999999995" y1="872" x2="269.54999999999995" y2="879.5" stroke="#222" stroke-width="1.9"/>
<text class="tick" x="269.5" y="905.0" text-anchor="middle">25</text>
<line x1="403.09999999999997" y1="872" x2="403.09999999999997" y2="879.5" stroke="#222" stroke-width="1.9"/>
<text class="tick" x="403.1" y="905.0" text-anchor="middle">50</text>
<line x1="536.65" y1="872" x2="536.65" y2="879.5" stroke="#222" stroke-width="1.9"/>
<text class="tick" x="536.6" y="905.0" text-anchor="middle">75</text>
<line x1="670.1999999999999" y1="872" x2="670.1999999999999" y2="879.5" stroke="#222" stroke-width="1.9"/>
<text class="tick" x="670.2" y="905.0" text-anchor="middle">100</text>
<text class="title" x="403" y="940.2" text-anchor="middle">Water availability</text>
<text class="rtitle" transform="translate(38.5,683) rotate(-90)" text-anchor="middle">Relative difference in range</text>
</g>
<g id="facets">
<g id="facet-2022">
<clipPath id="cp2022"><rect x="821.5" y="60" width="287.7" height="376"/></clipPath><g clip-path="url(#cp2022)" shape-rendering="crispEdges">
<path d="M834.4,418.8L834.4,418.8 898.4,418.8 899,418.8 899.5,418.4 900,417.7 901.1,415.5 903.7,406.5 905.3,399 906.8,388.7 908.4,374.9 911.6,341.3 921.5,216.6 924.7,186.4 925.7,178.1 926.8,171.8 927.8,168.3 928.4,167.8 928.9,168.2 930.5,171.7 934.1,181.1 938.3,190.6 939.9,193.8 941.5,196.1 942.5,196.8 943.1,196.8 943.6,196.5 944.6,195.2 946.2,191.9 952.5,174.3 955.7,164.5 957.8,157.4 959.3,149.5 962.5,128.7 963,123.9 965.1,87 965.6,79.6 966.2,77 966.7,77.1 967.2,83.4 967.7,93.7 968.8,123 969.3,143.3 970.4,199.9 970.9,217.5 973,265.9 974,285.2 975.1,300.2 976.1,310.3 976.7,313.4 984.5,351.3 991.9,389.3 994,398.5 995.6,403.3 997.1,406.6 998.7,408.8 1001.3,411.7 1005.5,416.9 1007.1,418.2 1008.2,418.7 1096.3,418.8 1096.3,418.8" fill="#40B0E0" fill-opacity="0.1" stroke="#40B0E0" stroke-width="3.9" stroke-linejoin="round"/>
<path d="M834.4,418.8L834.4,418.8 934.1,418.8 936.2,417.5 937.3,416.7 938.3,415.2 939.4,413 940.4,409.7 941.5,404.8 943.1,393.3 944.6,375.2 946.2,348.7 947.3,325.8 948.8,283.9 954.1,121.8 955.7,90.2 956.7,79 957.2,77 957.8,77 958.3,79.9 958.8,85.3 960.4,115.5 965.6,277.8 967.2,317.3 968.3,337.9 969.3,354 970.9,370.8 972.5,381.1 973.5,385.4 974.6,388.4 975.6,390.6 977.2,393.1 987.7,407.6 991.4,411.9 994,414.3 996.6,416 999.8,417.3 1003.4,418.2 1004,418.7 1004.5,418.8 1096.3,418.8 1096.3,418.8" fill="#40B8D4" fill-opacity="0.1" stroke="#40B8D4" stroke-width="3.9" stroke-linejoin="round"/>
<path d="M834.4,418.8L834.4,418.8 945.2,418.8 948.3,416.3 949.4,414.9 950.4,412.8 951.5,409.7 952.5,405.5 953.6,399.6 954.6,391.8 956.2,375.6 957.8,352.8 959.3,322.7 960.9,285.5 965.1,167.5 967.2,115.5 968.8,88.9 969.8,79.1 970.4,77 970.9,77 971.4,77.9 971.9,81.1 973,92.9 974,110.9 975.6,147.2 980.9,293 982.4,328.9 984,357.6 985.6,379.1 987.2,394.3 988.7,404.4 989.8,408.9 990.8,412.2 991.9,414.5 992.9,416 994,417.1 996.6,418.8 1096.3,418.8 1096.3,418.8" fill="#50BCB6" fill-opacity="0.1" stroke="#50BCB6" stroke-width="3.9" stroke-linejoin="round"/>
<path d="M834.4,418.8L834.4,418.8 868.5,418.8 870.1,418.3 871.7,417.2 873.2,415.5 875.3,412.6 881.6,402.1 883.7,397.9 889.5,385.2 891.1,382.3 892.7,379.9 895.3,376.9 898.4,373.8 902.6,370.1 909.5,365.2 910.5,364.2 911.6,362.6 912.6,360.4 914.2,356.5 916.8,348.3 921.5,326.6 923.1,320.9 925.2,314.9 926.3,312.6 927.3,310.8 928.4,309.7 928.9,309.3 929.9,309 931,309.2 932.6,310.2 935.2,313.1 937.8,319.7 938.9,321.3 939.4,321.5 939.9,321.6 941,321.2 942.5,319.8 944.1,317.3 945.7,314 950.4,301.6 956.7,283.6 959.9,272.4 960.9,266.5 962,256.6 963.5,236.8 969.3,150.8 973.5,94.4 975.1,81.1 975.6,78.7 976.1,77.3 976.7,77 977.2,77.3 978.2,79.4 979.3,83.3 980.3,89 981.9,100.9 986.6,143.7 991.4,189.2 995.6,232.4 999.2,288.6 1000.8,304.1 1002.9,320.8 1005.5,337 1010.8,362.4 1016,382.2 1021.3,399.4 1023.4,404.7 1025,407.3 1025.5,407.6 1026,407.8 1027.1,407.4 1029.2,406.3 1030.2,406.5 1031.8,408.5 1036,416.1 1038.1,418 1039.6,418.8 1096.3,418.8 1096.3,418.8" fill="#60BCA0" fill-opacity="0.1" stroke="#60BCA0" stroke-width="3.9" stroke-linejoin="round"/>
<path d="M834.4,418.8L834.4,418.8 929.4,418.8 929.9,418.7 932,416.7 933.1,415.3 934.1,413.1 935.2,409.7 936.2,404.7 937.8,393 939.4,374.6 940.4,357.6 941.5,336.5 943.1,297 947.3,164.3 948.8,119.7 950.4,88.7 951.5,78 952,77 952.5,77 953,79.2 953.6,84.1 955.1,110.8 956.7,150.9 960.9,273 962.5,309.1 964.1,336.4 965.6,355.4 967.2,367.9 968.3,373.6 969.3,377.9 970.9,382.8 972.5,386.7 979.8,403.7 981.9,407.9 984,411.3 986.1,414 988.2,415.8 990.3,417.1 993.5,418.1 994.5,418.8 1096.3,418.8 1096.3,418.8" fill="#70BC8A" fill-opacity="0.1" stroke="#70BC8A" stroke-width="3.9" stroke-linejoin="round"/>
<path d="M834.4,418.8L834.4,418.8 921.5,418.8 922.1,418.2 922.6,416.4 923.6,409.4 925.2,391.6 927.3,358.3 931,291.2 932,266.5 935.2,137 937.3,91.2 938.3,78.4 938.9,77 939.4,79.6 939.9,85.5 941.5,116.4 943.6,177 945.2,240.1 946.2,265.1 947.8,289.6 951.5,332.8 953.6,353.8 955.7,372.3 957.8,387.5 959.9,399.9 962,409.8 963.5,414.5 964.6,416.1 966.2,417.8 967.2,418.5 968.3,418.8 1096.3,418.8 1096.3,418.8" fill="#90B468" fill-opacity="0.1" stroke="#90B468" stroke-width="3.9" stroke-linejoin="round"/>
<path d="M834.4,418.8L834.4,418.8 883.7,418.8 884.3,418.4 884.8,417.8 886.4,414.2 890.6,401.6 892.7,393.7 894.2,386.2 895.8,376.7 896.9,366.3 897.9,352.7 900.5,312.2 902.6,274 905.3,219.3 907.9,155.1 909.5,126.1 911,103.9 912.6,87.5 913.7,80.9 914.2,78.8 914.7,77.5 915.2,77 915.8,77.4 916.3,78.9 916.8,81.5 917.9,89.7 919.4,108.5 920.5,125.9 922.1,160.4 924.2,228.1 929.9,336.4 931,350.3 932,360.2 933.6,370 934.1,372.2 935.2,374.9 935.7,375.5 936.2,375.6 936.8,375.1 938.3,371.8 940.4,366 942,360.6 943.6,354 948.3,328 949.9,320.8 950.9,317.3 952,314.9 953,313.4 953.6,313 954.6,312.8 956.2,313.6 957.2,314.9 958.3,317.1 959.3,320.3 960.9,327.4 965.6,351.6 968.8,366 974,388.8 977.2,400.8 979.3,407.3 981.4,412.6 983.5,416.5 985.1,418.3 985.6,418.6 986.6,418.8 1096.3,418.8 1096.3,418.8" fill="#B0AC58" fill-opacity="0.1" stroke="#B0AC58" stroke-width="3.9" stroke-linejoin="round"/>
<path d="M834.4,418.8L834.4,418.8 958.3,418.8 960.4,416.6 961.4,414.8 962.5,411.7 963.5,406.9 965.1,394.4 966.7,372.9 967.7,352.1 969.8,293.4 974.6,122 976.1,85.7 976.7,79.3 977.2,77 977.7,77 978.2,78.5 978.8,83.2 980.3,110.5 981.9,152.9 986.1,287.3 987.7,328.9 988.7,351.4 989.8,369.7 991.4,389.8 992.9,402.8 994,408.4 995,412.2 996.6,415.6 997.7,416.9 999.8,418.8 1096.3,418.8 1096.3,418.8" fill="#C8A458" fill-opacity="0.1" stroke="#C8A458" stroke-width="3.9" stroke-linejoin="round"/>
<path d="M834.4,418.8L834.4,418.8 955.7,418.8 956.2,418.8 958.3,416.5 959.3,414.4 960.4,410.8 960.9,408.2 962,400.6 962.5,395.3 963.5,381.1 964.6,361.1 966.7,301.1 971.4,116.6 971.9,101.8 973,81.8 973.5,77.3 974,77 974.6,78.5 975.6,89.5 977.2,121.4 978.8,166.6 982.4,284.7 984,326.8 985.1,349.6 986.6,376.1 988.2,394 989.8,405.3 990.8,410.1 991.9,413.4 992.9,415.5 994,416.9 996.6,418.8 1096.3,418.8 1096.3,418.8" fill="#E89C60" fill-opacity="0.1" stroke="#E89C60" stroke-width="3.9" stroke-linejoin="round"/>
<path d="M834.4,418.8L834.4,418.8 962,418.8 962.5,418.6 963.5,416.8 964.6,413.5 965.6,409 968.8,392.2 970.9,373.5 973,347.6 974,330.5 975.1,307.9 980.3,152.1 981.4,125.9 982.4,108.9 984,90.8 985.1,82.3 985.6,79.5 986.1,77.8 986.6,77 987.2,77.8 987.7,80.5 988.2,84.8 989.3,97.3 990.3,115.8 991.9,164.7 992.9,223.7 993.5,241.8 995,285.5 997.1,331.8 998.7,352.6 999.8,362.8 1000.8,370.6 1004,386.2 1006.6,396.5 1007.6,399.3 1010.3,404.1 1011.8,406.5 1013.4,408.1 1015,408.9 1017.1,409.6 1019.2,410.1 1021.3,410.3 1022.9,410 1025.5,408.3 1026,408.2 1026.5,408.5 1028.1,410.1 1031.3,413.9 1033.9,418 1034.9,418.8 1096.3,418.8 1096.3,418.8" fill="#F88C68" fill-opacity="0.1" stroke="#F88C68" stroke-width="3.9" stroke-linejoin="round"/>
<path d="M834.4,418.8L834.4,418.8 958.3,418.8 958.8,417 959.3,411.2 959.9,400.6 964.1,270.9 965.1,226.2 966.7,172.9 968.3,131.3 969.3,112.3 970.4,101.6 970.9,99.7 971.4,99.1 972.5,98.5 973,97.5 975.1,91.1 977.7,79.4 978.2,78.1 978.8,77.4 979.3,77 979.8,77 980.3,77.9 980.9,81.4 981.4,88.6 982.4,117.1 985.6,218.7 989.8,309.2 990.8,327.6 992.4,343.5 995,364.1 996.6,374.8 998.7,383.9 1002.4,396.2 1005,402.9 1008.2,410 1011.3,415.9 1012.4,417.3 1012.9,417.6 1013.4,417.6 1013.9,417.3 1014.5,416.5 1017.1,411.3 1018.1,408.6 1018.7,407.6 1019.2,407.6 1022.3,414.1 1023.9,418.1 1024.4,418.8 1096.3,418.8 1096.3,418.8" fill="#666666" fill-opacity="0.1" stroke="#666666" stroke-width="4.4" stroke-linejoin="round"/>
</g>
<rect x="821.5" y="60" width="287.70000000000005" height="376" fill="none" stroke="#333333" stroke-width="1.5" shape-rendering="crispEdges"/>
<rect x="821.5" y="14.5" width="287.7" height="45.5" fill="#D9D9D9" stroke="#333333" stroke-width="1.35"/>
<line x1="821.5" y1="60" x2="1109.2" y2="60" stroke="#333333" stroke-width="2"/>
<text class="strip" x="965.4" y="46.5" text-anchor="middle">2022</text>
<line x1="814.0" y1="418.8" x2="821.5" y2="418.8" stroke="#222" stroke-width="1.9"/>
<text class="tick" x="807.0" y="428.7" text-anchor="end">0.00</text>
<line x1="814.0" y1="333.35" x2="821.5" y2="333.35" stroke="#222" stroke-width="1.9"/>
<text class="tick" x="807.0" y="343.2" text-anchor="end">0.25</text>
<line x1="814.0" y1="247.9" x2="821.5" y2="247.9" stroke="#222" stroke-width="1.9"/>
<text class="tick" x="807.0" y="257.8" text-anchor="end">0.50</text>
<line x1="814.0" y1="162.45" x2="821.5" y2="162.45" stroke="#222" stroke-width="1.9"/>
<text class="tick" x="807.0" y="172.3" text-anchor="end">0.75</text>
<line x1="814.0" y1="77.0" x2="821.5" y2="77.0" stroke="#222" stroke-width="1.9"/>
<text class="tick" x="807.0" y="86.9" text-anchor="end">1.00</text>
</g>
<g id="facet-2020">
<clipPath id="cp2020"><rect x="1123.6" y="60" width="287.7" height="376"/></clipPath><g clip-path="url(#cp2020)" shape-rendering="crispEdges">
<path d="M1136.5,418.8L1136.5,418.8 1236.8,418.8 1237.3,418.7 1237.8,417.4 1238.9,411.5 1239.9,402.2 1242.5,374.4 1252.5,276.6 1255.7,242.4 1257.2,212.7 1259.3,131.1 1260.4,99.6 1261.4,78.5 1262,77 1262.5,80 1263,85.4 1264.1,99.3 1267.2,150.9 1268.8,181.8 1271.4,246 1273,279.2 1274.6,308.1 1276.7,338.4 1278.8,361.9 1280.9,379 1282.4,388.1 1284.5,398.5 1286.1,405 1287.7,410.1 1290.8,416.7 1291.9,418.2 1292.9,418.8 1398.4,418.8 1398.4,418.8" fill="#40B0E0" fill-opacity="0.1" stroke="#40B0E0" stroke-width="3.9" stroke-linejoin="round"/>
<path d="M1136.5,418.8L1136.5,418.8 1239.4,418.8 1239.9,418.6 1240.4,418 1242.5,417 1244.1,415.7 1245.7,413.5 1247.3,410.1 1248.8,405 1249.9,400.4 1252,387.2 1254.1,367.5 1255.7,347.6 1257.2,323 1259.3,283.2 1264.6,165.2 1266.7,123 1268.3,98.6 1269.3,87 1270.4,79.7 1270.9,77.7 1271.4,77 1271.9,77.2 1272.5,78.6 1273,80.8 1274,88.1 1275.1,98.9 1276.7,120.9 1278.8,158.5 1285.1,286.7 1287.2,322.6 1289.3,351.9 1290.8,369.3 1292.9,387 1295,399.3 1296.1,403.8 1297.7,408.9 1299.2,412.4 1301.3,415.4 1302.9,416.7 1305,417.8 1306.1,418.6 1306.6,418.8 1398.4,418.8 1398.4,418.8" fill="#40B8D4" fill-opacity="0.1" stroke="#40B8D4" stroke-width="3.9" stroke-linejoin="round"/>
<path d="M1136.5,418.8L1136.5,418.8 1157,418.8 1158.5,417.7 1162.2,413.1 1163.3,412 1166.4,409.4 1167.5,408.8 1168.5,408.4 1169.6,408.5 1171.1,409.3 1175.9,413.1 1179,415 1182.2,416.6 1184.8,417.5 1187.4,418 1190,418.1 1199.5,417 1201.1,416.6 1203.2,415.6 1207.4,412.5 1208.9,411 1210.5,408 1212.1,402.9 1213.7,394.9 1217.3,366.2 1226.3,310.7 1229.4,295.6 1237.3,237.5 1239.4,223.6 1241,215.1 1243.6,204.1 1246.2,196.1 1246.7,195 1247.8,193.4 1248.8,192.6 1251.5,191.3 1253,189.2 1254.1,187 1255.1,183.8 1256.7,176 1257.8,167.5 1258.3,161.3 1260.9,121.4 1263,95.1 1264.6,80.8 1265.1,78.1 1265.6,77 1266.2,78.3 1266.7,82.4 1267.7,97.2 1269.3,129.4 1272.5,205.4 1275.1,260.2 1277.2,297.3 1279.3,326.1 1281.4,348.3 1283.5,364.4 1286.1,378.8 1288.2,389 1290.3,397.6 1292.4,403.9 1296.1,411.7 1298.2,415.6 1299.2,417 1300.3,418.1 1301.3,418.7 1301.9,418.8 1398.4,418.8 1398.4,418.8" fill="#50BCB6" fill-opacity="0.1" stroke="#50BCB6" stroke-width="3.9" stroke-linejoin="round"/>
<path d="M1136.5,418.8L1136.5,418.8 1246.7,418.8 1247.3,418.4 1247.8,417.3 1249.4,411.1 1253,392 1254.6,386.5 1257.8,376.9 1259.3,371.1 1260.4,364.1 1261.4,354.2 1263.5,329.2 1264.6,310.8 1265.6,286.7 1267.2,236.7 1268.3,211.5 1270.4,169.5 1271.9,145.5 1274.6,115.4 1276.7,98 1278.2,89.1 1279.8,82.1 1280.9,78.8 1281.9,77 1283,77 1283.5,77.5 1284.5,79.2 1286.1,83.4 1287.7,89.8 1291.9,114.5 1296.1,142.4 1301.9,185.9 1305.5,216.5 1308.2,241.2 1315.5,316.3 1317.1,329.9 1318.7,340.8 1321.3,354.8 1327.1,379.4 1332.8,402 1336.5,414.2 1338.1,417.5 1338.6,418.2 1339.6,418.8 1398.4,418.8 1398.4,418.8" fill="#60BCA0" fill-opacity="0.1" stroke="#60BCA0" stroke-width="3.9" stroke-linejoin="round"/>
<path d="M1136.5,418.8L1136.5,418.8 1249.4,418.8 1250.4,418.1 1252.5,417.2 1254.1,416 1255.7,414 1257.2,410.9 1258.8,406.2 1259.9,401.8 1262,389.5 1264.1,370.8 1265.6,351.8 1267.2,328.1 1269.3,289.4 1275.1,160.3 1277.2,118.9 1278.8,95.6 1279.8,84.9 1280.9,78.4 1281.4,77 1281.9,77 1282.4,77.3 1283,78.6 1284,83.4 1284.5,86.9 1286.1,101.4 1287.7,121.3 1290.3,163.2 1297.1,285.7 1299.2,317.8 1301.3,344.8 1303.4,366.5 1305.5,383.1 1307.6,395.2 1308.7,399.9 1310.3,405.5 1312.4,410.7 1313.4,412.6 1315,414.7 1316,415.7 1317.6,416.8 1320.8,418.1 1321.8,418.8 1398.4,418.8 1398.4,418.8" fill="#70BC8A" fill-opacity="0.1" stroke="#70BC8A" stroke-width="3.9" stroke-linejoin="round"/>
<path d="M1136.5,418.8L1136.5,418.8 1201.6,418.8 1202.6,418.4 1204.2,417.3 1208.9,412.8 1212.1,409.4 1213.7,408.5 1214.2,408.6 1215.2,409.4 1218.9,414.4 1221,416 1223.6,417.6 1225.7,418.7 1228.4,418.8 1228.9,418.5 1229.4,417.2 1230.5,412.4 1232,398.3 1242,275.9 1244.6,230.5 1249.4,138.4 1252,95.1 1252.5,88.5 1253.6,80.2 1254.1,78.1 1254.6,77.1 1255.1,77 1255.7,77.8 1256.2,79.5 1256.7,82.4 1257.8,92.9 1260.9,145 1264.6,217.5 1266.7,254.8 1269.3,293.8 1272.5,332.4 1274,348.2 1275.6,361.6 1277.7,377 1279.3,386.8 1280.9,394.7 1281.9,398.8 1284,405.7 1286.1,411.3 1287.7,414.3 1288.7,415.7 1291.4,418.2 1292.9,418.8 1398.4,418.8 1398.4,418.8" fill="#90B468" fill-opacity="0.1" stroke="#90B468" stroke-width="3.9" stroke-linejoin="round"/>
<path d="M1136.5,418.8L1136.5,418.8 1173.8,418.8 1174.3,418.5 1174.8,417.9 1176.4,414.2 1177.4,410.6 1179,404 1181.6,390.3 1184.8,368.7 1187.9,342.4 1190,320.4 1193.7,275 1196.9,229.4 1200,161.9 1201.1,147.1 1202.6,129 1204.7,110.6 1206.3,99.7 1207.9,90.5 1210,81.1 1211,78.3 1211.6,77.4 1212.1,77 1212.6,77 1213.1,77.3 1213.7,78 1214.7,80.8 1215.2,82.9 1216.3,88.7 1217.9,101.8 1220.5,129.1 1223.1,160.6 1227.3,221.5 1229.4,240.2 1235.2,284.9 1237.3,299.7 1239.4,309.7 1241,314.7 1242.5,318.3 1243.6,319.7 1244.6,320.1 1245.2,319.9 1246.2,319.1 1247.8,317.2 1248.8,315.3 1249.9,312.7 1252.5,303.6 1254.6,294.9 1256.7,284.7 1267.2,226.3 1272.5,195.4 1274.6,184.2 1276.7,175.2 1279.3,166.6 1280.3,164 1280.9,163.2 1281.4,162.6 1281.9,162.4 1282.4,162.5 1283.5,163.6 1284,164.6 1285.6,169.7 1288.2,182.9 1290.8,198.7 1292.9,213.6 1310.8,350 1313.4,367.6 1315.5,378.5 1318.1,389.2 1321.8,401.1 1325,409.2 1326.5,412.2 1328.1,414.7 1330.7,417.5 1331.8,418.3 1332.8,418.8 1398.4,418.8 1398.4,418.8" fill="#B0AC58" fill-opacity="0.1" stroke="#B0AC58" stroke-width="3.9" stroke-linejoin="round"/>
<path d="M1136.5,418.8L1136.5,418.8 1258.3,418.8 1259.3,417.9 1261.4,416.9 1262.5,416.1 1264.1,414.1 1265.1,412.3 1266.7,408.3 1267.7,404.5 1269.8,393.7 1271.9,377 1274,353 1275.6,329.7 1277.7,291.3 1283.5,162.4 1285.6,120.7 1287.2,96.9 1288.2,85.7 1289.3,78.9 1289.8,77.3 1290.3,77 1290.8,77.2 1291.4,78.4 1291.9,80.3 1292.9,86.3 1294.5,100.5 1296.1,120 1298.7,161.6 1305.5,284.2 1307.6,316.5 1309.7,343.7 1311.8,365.6 1313.9,382.4 1316,394.8 1317.1,399.6 1318.7,405.2 1320.8,410.5 1321.8,412.4 1323.4,414.6 1324.4,415.6 1326,416.7 1330.7,418.8 1398.4,418.8 1398.4,418.8" fill="#C8A458" fill-opacity="0.1" stroke="#C8A458" stroke-width="3.9" stroke-linejoin="round"/>
<path d="M1136.5,418.8L1136.5,418.8 1260.9,418.8 1261.4,418.7 1262,417.6 1262.5,415.4 1263.5,407.6 1265.1,388.3 1267.7,344.8 1271.9,266.9 1274,222.4 1276.1,153.7 1278.2,96.4 1279.3,79.5 1279.8,77 1280.3,77.7 1280.9,79.8 1282.4,92.6 1294.5,242.4 1297.7,277.7 1300.3,302.4 1301.9,314.9 1304,329.3 1306.1,341.9 1309.2,358.8 1311.3,368.9 1313.4,377.9 1315,383.6 1318.1,393.3 1321.8,403.1 1326.5,413.3 1328.6,417 1329.7,418.2 1330.7,418.8 1398.4,418.8 1398.4,418.8" fill="#E89C60" fill-opacity="0.1" stroke="#E89C60" stroke-width="3.9" stroke-linejoin="round"/>
<path d="M1136.5,418.8L1136.5,418.8 1274.6,418.8 1275.6,412.2 1276.7,400.2 1283,315 1285.1,272.9 1287.2,246.4 1291.9,202.6 1297.7,152.7 1304,87.6 1304.5,84.1 1305.5,79.5 1306.1,78.2 1306.6,77.4 1307.1,77 1307.6,77.1 1308.2,78 1309.2,82.2 1310.8,95 1311.8,108.6 1315,158.9 1318.7,201.1 1321.8,231 1324.4,267.9 1327.6,299.7 1332.3,342.8 1335.4,368.7 1338.1,386.2 1339.6,394.4 1340.7,398.6 1342.3,402.9 1345.9,408.5 1352.8,416.8 1354.3,418.2 1355.4,418.7 1398.4,418.8 1398.4,418.8" fill="#F88C68" fill-opacity="0.1" stroke="#F88C68" stroke-width="3.9" stroke-linejoin="round"/>
<path d="M1136.5,418.8L1136.5,418.8 1265.1,418.8 1265.6,418.7 1266.2,418.1 1266.7,416.6 1267.2,414.2 1267.7,410.7 1268.8,400.1 1269.8,384.1 1270.9,362.2 1274,283.8 1278.2,152.9 1279.8,118.6 1280.9,103.9 1282.4,88.2 1283.5,81 1284,78.6 1284.5,77.2 1285.1,77 1285.6,77.4 1286.1,78.5 1287.2,82 1288.7,91.7 1290.3,108.1 1294,156.1 1296.1,173.2 1300.8,203.7 1302.9,219.7 1311.3,304.8 1312.9,319.2 1314.5,331.6 1316,341.5 1317.6,349.6 1323.9,377.1 1328.1,392.5 1333.9,410.8 1336,416.4 1337,418.1 1337.5,418.6 1338.1,418.8 1398.4,418.8 1398.4,418.8" fill="#666666" fill-opacity="0.1" stroke="#666666" stroke-width="4.4" stroke-linejoin="round"/>
</g>
<rect x="1123.6" y="60" width="287.70000000000005" height="376" fill="none" stroke="#333333" stroke-width="1.5" shape-rendering="crispEdges"/>
<rect x="1123.6" y="14.5" width="287.7" height="45.5" fill="#D9D9D9" stroke="#333333" stroke-width="1.35"/>
<line x1="1123.6" y1="60" x2="1411.3" y2="60" stroke="#333333" stroke-width="2"/>
<text class="strip" x="1267.4" y="46.5" text-anchor="middle">2020</text>
</g>
<g id="facet-2024">
<clipPath id="cp2024"><rect x="1425.6999999999998" y="60" width="287.7" height="376"/></clipPath><g clip-path="url(#cp2024)" shape-rendering="crispEdges">
<path d="M1438.6,418.8L1438.6,418.8 1570.4,418.8 1570.9,418.4 1571.4,416.8 1571.9,414.1 1573.5,400.9 1575.1,382.6 1575.6,371.7 1577.2,315.7 1578.2,247.9 1578.8,228.9 1579.8,199.4 1581.4,166.6 1584,127 1586.1,101 1587.2,90.9 1588.2,83.1 1589.3,78.3 1589.8,77.1 1590.3,77 1590.8,77.9 1591.4,80 1591.9,83.3 1593.5,100.2 1595,127.1 1598.2,188.8 1601.3,242.2 1604,281.6 1606.6,313.2 1609.7,342.9 1613.9,373.2 1615.5,382.6 1617.1,390.2 1620.8,403.3 1622.9,409.1 1626,415.9 1627.6,418.3 1628.1,418.7 1628.6,418.8 1700.5,418.8 1700.5,418.8" fill="#40B0E0" fill-opacity="0.1" stroke="#40B0E0" stroke-width="3.9" stroke-linejoin="round"/>
<path d="M1438.6,418.8L1438.6,418.8 1569.8,418.8 1570.4,418.7 1571.4,417.7 1572.5,417.1 1573.5,416.1 1574.6,414.8 1575.6,412.8 1576.7,409.9 1577.7,406 1578.8,400.8 1579.8,393.8 1580.9,384.9 1581.9,373.6 1583.5,351.7 1585.1,323.3 1586.6,288.6 1591.4,164.1 1593.5,115.7 1594.5,97.4 1595.6,84.5 1596.6,77.7 1597.1,77 1597.7,77.3 1598.2,79.5 1598.7,83.4 1599.8,95.6 1600.8,113.2 1602.9,160.8 1607.6,285.5 1609.2,320.6 1610.8,349.6 1612.4,372 1613.9,388.5 1615.5,400 1616.6,405.5 1617.6,409.5 1618.7,412.4 1620.2,415.3 1621.8,417 1625,418.8 1700.5,418.8 1700.5,418.8" fill="#40B8D4" fill-opacity="0.1" stroke="#40B8D4" stroke-width="3.9" stroke-linejoin="round"/>
<path d="M1438.6,418.8L1438.6,418.8 1462.7,418.7 1464.8,418.2 1466.9,417.2 1469,416 1471.1,414.4 1475.3,410.4 1480.1,405.3 1486.9,397.3 1491.6,391 1495.3,385 1498.4,379 1501.6,372 1504.2,365.4 1508.9,351 1516.3,325.3 1521.5,308 1523.6,300.3 1525.2,293.5 1526.8,285.6 1528.4,276.3 1534.7,228.6 1541.5,180.7 1545.7,155.2 1550.9,126.5 1553,116 1555.1,106.8 1560.4,86.9 1561.4,83.9 1563,80.5 1564.6,78.2 1565.6,77.2 1566.2,77 1567.2,77 1567.7,77.5 1568.8,79.5 1569.3,81 1570.9,87.9 1571.9,94.7 1573.5,108.5 1577.2,145.5 1583,195.6 1584.5,207.3 1588.2,231.3 1590.3,247.8 1591.4,260.1 1595,316 1597.1,338.5 1599.2,358.2 1601.9,379.4 1603.4,389 1605.5,396.9 1607.6,402.9 1609.7,407.5 1610.8,409.3 1612.4,411.4 1618.1,417.1 1619.7,418.2 1621.3,418.7 1700.5,418.8 1700.5,418.8" fill="#50BCB6" fill-opacity="0.1" stroke="#50BCB6" stroke-width="3.9" stroke-linejoin="round"/>
<path d="M1438.6,418.8L1438.6,406.8 1450.1,407 1451.7,406.4 1452.8,405.4 1455.9,401.3 1466.4,384.3 1469,380.5 1485.3,359.8 1500.5,339.9 1502.6,338 1506.8,336 1508.4,335 1510,333.5 1512.1,330.7 1515.8,325.1 1519.4,318.6 1523.1,311.3 1527.3,302.1 1538.3,276.9 1546.7,254.3 1548.8,249.2 1550.4,246 1552.5,242.5 1554.6,239.7 1562,232.1 1565.6,227.6 1572.5,218.5 1574,215.9 1575.6,211.8 1576.7,208.1 1578.2,200.6 1579.3,194.1 1581.4,176.5 1586.1,128.3 1589.8,97.1 1591.9,82.5 1592.9,77 1594.5,77 1595,79.5 1596.1,89.2 1598.2,120.3 1599.8,151.4 1603.4,237.1 1606.6,293.1 1609.2,332.8 1611.3,356.6 1613.9,379.3 1616,392.5 1617.1,397.1 1618.7,402.5 1620.8,408.8 1622.9,413.6 1623.9,415.2 1626,417.3 1627.1,418.2 1628.1,418.7 1700.5,418.8 1700.5,418.8Z" fill="#60BCA0" fill-opacity="0.1"/>
<path d="M1438.6,406.8 1450.1,407 1451.7,406.4 1452.8,405.4 1455.9,401.3 1466.4,384.3 1469,380.5 1485.3,359.8 1500.5,339.9 1502.6,338 1506.8,336 1508.4,335 1510,333.5 1512.1,330.7 1515.8,325.1 1519.4,318.6 1523.1,311.3 1527.3,302.1 1538.3,276.9 1546.7,254.3 1548.8,249.2 1550.4,246 1552.5,242.5 1554.6,239.7 1562,232.1 1565.6,227.6 1572.5,218.5 1574,215.9 1575.6,211.8 1576.7,208.1 1578.2,200.6 1579.3,194.1 1581.4,176.5 1586.1,128.3 1589.8,97.1 1591.9,82.5 1592.9,77 1594.5,77 1595,79.5 1596.1,89.2 1598.2,120.3 1599.8,151.4 1603.4,237.1 1606.6,293.1 1609.2,332.8 1611.3,356.6 1613.9,379.3 1616,392.5 1617.1,397.1 1618.7,402.5 1620.8,408.8 1622.9,413.6 1623.9,415.2 1626,417.3 1627.1,418.2 1628.1,418.7 1700.5,418.8" fill="none" stroke="#60BCA0" stroke-width="3.9" stroke-linejoin="round"/>
<path d="M1438.6,418.8L1438.6,418.8 1606.1,418.8 1606.6,418.7 1607.6,417.9 1610.8,416.7 1612.4,415.7 1613.9,414.5 1617.1,410.9 1620.8,405.1 1623.9,398.8 1625,395.6 1626,390.4 1627.1,381.3 1627.6,374.4 1628.6,353.5 1630.2,299.1 1633.9,105.7 1634.9,77.1 1635.5,77 1636,78.5 1636.5,90.1 1637,109.7 1640.2,283.8 1641.7,351.3 1642.3,366.8 1643.3,388.7 1644.4,401.3 1645.4,408.2 1646.5,411.8 1647.5,413.8 1648.6,415.1 1650.7,416.6 1652.2,417.3 1654.3,418 1655.4,418.7 1700.5,418.8 1700.5,418.8" fill="#70BC8A" fill-opacity="0.1" stroke="#70BC8A" stroke-width="3.9" stroke-linejoin="round"/>
<path d="M1438.6,418.8L1438.6,418.8 1564.6,418.8 1565.1,418.7 1566.2,418.2 1567.2,417 1568.3,415.5 1570.4,411.3 1574,402.7 1579.3,388.3 1580.9,385.2 1584.5,379.3 1586.1,376.2 1588.7,370.3 1591.4,363.1 1593.5,356.4 1595,350.5 1599.2,328.1 1604.5,305.8 1608.2,291.9 1611.8,280.2 1617.1,264.9 1618.7,260.7 1623.9,248.4 1625.5,243.8 1626.5,239.9 1627.6,234.7 1628.6,227.9 1630.2,213.9 1640.2,89.4 1640.7,84.8 1641.7,79.2 1642.3,77.8 1642.8,77.1 1643.3,77 1643.8,77 1644.4,77.7 1644.9,79.1 1645.9,84.1 1647,92.3 1648,104.1 1649.6,126 1651.7,160.7 1654.3,217.8 1655.4,236.8 1665.9,362.3 1666.9,372.5 1668.5,383.9 1669.6,389.6 1671.1,396.6 1672.7,402.6 1674.3,407.6 1675.9,411.1 1680.1,416.8 1681.6,418.2 1683.2,418.8 1700.5,418.8 1700.5,418.8" fill="#90B468" fill-opacity="0.1" stroke="#90B468" stroke-width="3.9" stroke-linejoin="round"/>
<path d="M1438.6,418.8L1438.6,418.8 1499,418.8 1500.5,418.3 1502.1,416.9 1503.2,415.1 1504.2,412.5 1505.8,406.6 1506.8,401.2 1508.9,386.1 1512.6,349.8 1518.4,284.4 1520,268.3 1521,260.6 1523.1,247.7 1528.4,204 1534.7,157.6 1539.9,123.1 1543.1,106.7 1545.7,96.1 1549.4,83.1 1550.9,79 1552,77.2 1552.5,77 1554.6,77 1555.7,78.8 1557.2,84.2 1559.3,95.4 1562,114.7 1568.8,175.9 1571.9,200.9 1578.8,250.2 1583,277 1585.1,288.9 1587.2,298.6 1588.2,302.2 1589.3,305 1590.3,307.2 1591.4,308.9 1592.4,310.2 1596.1,314 1598.2,317.3 1600.8,324 1603.4,332.2 1605.5,340.5 1607.6,351.5 1612.4,387.3 1612.9,388.1 1621.8,367.7 1622.3,366.8 1622.9,366.9 1623.4,367.6 1624.4,370.6 1631.3,395.9 1633.9,404 1636,409 1638.1,413 1640.7,416.5 1642.8,418.4 1644.4,418.8 1700.5,418.8 1700.5,418.8" fill="#B0AC58" fill-opacity="0.1" stroke="#B0AC58" stroke-width="3.9" stroke-linejoin="round"/>
<path d="M1438.6,418.8L1438.6,418.8 1570.4,418.8 1570.9,418.5 1571.4,417.3 1571.9,415.1 1573,407.8 1574,396.4 1575.1,381 1577.2,344.3 1579.3,301.8 1581.4,240.3 1584,200.5 1587.7,152.4 1588.7,142.4 1589.3,139.7 1590.8,135.2 1591.4,132.5 1596.6,92.9 1598.2,82.4 1599.2,77 1600.3,77 1600.8,80.3 1602.4,99.5 1613.4,307.8 1615.5,337.9 1618.1,363.8 1620.8,384.1 1622.3,393.6 1623.4,398.7 1626.5,410.5 1628.6,416.3 1629.7,418.1 1630.2,418.6 1630.7,418.8 1700.5,418.8 1700.5,418.8" fill="#C8A458" fill-opacity="0.1" stroke="#C8A458" stroke-width="3.9" stroke-linejoin="round"/>
<path d="M1438.6,418.8L1438.6,418.8 1573.5,418.8 1574.6,418 1576.7,417.1 1577.7,416.3 1579.3,414.6 1580.3,412.8 1581.9,409.1 1583,405.6 1584,401.1 1585.1,395.5 1587.2,379.7 1589.3,356.7 1590.8,334.1 1592.9,296.8 1599.2,156.9 1601.3,116.1 1602.4,100.1 1603.4,87.9 1604.5,79.9 1605,77.6 1605.5,77 1606.1,77 1606.6,78.3 1607.1,82.1 1608.2,94.6 1609.2,113.3 1611.3,164.6 1615.5,282.9 1617.1,320.5 1618.7,351 1619.7,367.3 1621.3,386.1 1622.9,399 1623.9,405 1625,409.4 1626,412.5 1627.6,415.5 1629.2,417.2 1630.2,417.8 1631.3,418.7 1631.8,418.8 1700.5,418.8 1700.5,418.8" fill="#E89C60" fill-opacity="0.1" stroke="#E89C60" stroke-width="3.9" stroke-linejoin="round"/>
<path d="M1438.6,418.8L1438.6,418.8 1612.9,418.8 1613.9,418.6 1614.5,418 1615,416.8 1615.5,415 1616,412.2 1616.6,405.1 1618.1,356 1619.7,290.7 1620.2,280.4 1625,231.4 1625.5,213.7 1626.5,141.7 1627.1,117.5 1628.1,84.5 1628.6,77.3 1629.2,78.9 1629.7,88.1 1630.2,103.6 1631.3,151.1 1632.8,238.2 1633.9,273.4 1636,327.3 1637,349.2 1637.5,356.1 1638.6,362.2 1642.3,375.4 1645.9,395.1 1647.5,400.8 1649.1,404.6 1650.7,407.3 1656.4,414.4 1658.5,416.7 1660.6,418.3 1662.2,418.8 1700.5,418.8 1700.5,418.8" fill="#F88C68" fill-opacity="0.1" stroke="#F88C68" stroke-width="3.9" stroke-linejoin="round"/>
<path d="M1438.6,418.8L1438.6,418.8 1582.4,418.8 1583,418.4 1583.5,417.4 1584.5,413.7 1586.1,405.2 1587.2,396.2 1587.7,389.2 1589.3,358.9 1591.4,297.8 1593.5,253.5 1596.1,214.3 1598.7,181.6 1602.4,144.7 1607.6,100 1609.2,89.5 1610.3,84 1611.8,78.5 1612.4,77.4 1612.9,77 1613.4,77.8 1614.5,84.3 1616,103.8 1617.6,132.4 1619.7,178.8 1621.8,218.7 1624.4,264 1626,287.8 1627.1,300 1634.4,373.6 1636,389.1 1636.5,392.5 1637,394.2 1639.1,397.3 1639.6,397.6 1640.7,397.5 1641.7,396.6 1647,387.3 1647.5,387 1648.6,387 1649.6,387.3 1650.7,388 1652.8,390.8 1655.9,397 1660.1,410.6 1661.7,414.7 1663.3,417.1 1664.8,418.6 1665.9,418.8 1700.5,418.8 1700.5,418.8" fill="#666666" fill-opacity="0.1" stroke="#666666" stroke-width="4.4" stroke-linejoin="round"/>
</g>
<rect x="1425.6999999999998" y="60" width="287.70000000000005" height="376" fill="none" stroke="#333333" stroke-width="1.5" shape-rendering="crispEdges"/>
<rect x="1425.6999999999998" y="14.5" width="287.7" height="45.5" fill="#D9D9D9" stroke="#333333" stroke-width="1.35"/>
<line x1="1425.6999999999998" y1="60" x2="1713.3999999999999" y2="60" stroke="#333333" stroke-width="2"/>
<text class="strip" x="1569.5" y="46.5" text-anchor="middle">2024</text>
<line x1="1438.6" y1="436" x2="1438.6" y2="443.5" stroke="#222" stroke-width="1.9"/>
<text class="tick" x="1437.7" y="468.8" text-anchor="middle">-4</text>
<line x1="1528.0" y1="436" x2="1528.0" y2="443.5" stroke="#222" stroke-width="1.9"/>
<text class="tick" x="1527.1" y="468.8" text-anchor="middle">-2</text>
<line x1="1617.3999999999999" y1="436" x2="1617.3999999999999" y2="443.5" stroke="#222" stroke-width="1.9"/>
<text class="tick" x="1617.4" y="468.8" text-anchor="middle">0</text>
<line x1="1706.8" y1="436" x2="1706.8" y2="443.5" stroke="#222" stroke-width="1.9"/>
<text class="tick" x="1706.8" y="468.8" text-anchor="middle">2</text>
</g>
<g id="facet-2021">
<clipPath id="cp2021"><rect x="821.5" y="496.7" width="287.7" height="375.8"/></clipPath><g clip-path="url(#cp2021)" shape-rendering="crispEdges">
<path d="M834.4,856L834.4,856 982.4,856 983.5,855.2 985.6,854.3 987.2,853.2 988.7,851.5 989.8,849.9 991.4,846.5 992.4,843.4 994,837.2 995,831.8 996.6,821.5 997.7,812.9 999.8,791 1001.9,762.2 1004,726.8 1010.3,598.7 1012.9,552.4 1014.5,531.9 1015.5,522.3 1016.6,516.3 1017.1,514.7 1017.6,514.2 1018.1,514.3 1019.2,516.3 1020.8,523 1022.3,534.1 1023.9,549.1 1027.1,588.3 1034.9,706.6 1038.6,754.9 1041.2,782.9 1043.3,801.1 1045.4,815.8 1048,829.7 1050.7,839.5 1051.7,842.4 1053.3,846 1054.9,848.7 1056.4,850.8 1058,852.3 1060.1,853.7 1062.2,854.6 1064.3,855.2 1065.4,855.9 1065.9,856 1096.3,856 1096.3,856" fill="#40B0E0" fill-opacity="0.1" stroke="#40B0E0" stroke-width="3.9" stroke-linejoin="round"/>
<path d="M834.4,856L834.4,856 981.4,856 982.4,855.1 984.5,854.3 986.6,852.8 988.2,851.1 989.8,848.5 991.4,844.9 992.9,839.9 994.5,833.1 995.6,827.4 997.1,816.8 998.2,808.2 1000.3,786.9 1002.4,759.7 1004.5,727 1011.3,599.9 1013.9,556.7 1015.5,536.6 1017.1,522.5 1018.1,516.8 1018.7,515.2 1019.2,514.3 1019.7,514.2 1020.2,514.7 1021.3,516.9 1022.9,523.7 1024.4,534.2 1026,548.1 1027.6,565 1029.7,591.2 1037.5,702.4 1041.7,754.5 1044.4,781 1046.5,798.6 1048.6,812.9 1051.2,826.9 1053.8,836.9 1056.4,843.9 1058,847 1059.6,849.3 1061.2,851.1 1063.3,852.9 1065.9,854.2 1069,855.2 1070.1,856 1096.3,856 1096.3,856" fill="#40B8D4" fill-opacity="0.1" stroke="#40B8D4" stroke-width="3.9" stroke-linejoin="round"/>
<path d="M834.4,856L834.4,856 975.6,856 976.1,855.8 976.7,855.4 979.3,854.4 981.4,853.1 983.5,850.9 985.1,848.4 986.6,844.9 988.2,840.1 989.8,833.6 990.8,828.3 992.4,818.4 993.5,810.4 995.6,790.6 997.7,765.6 1000.3,727 1007.6,595.6 1010.3,554.7 1011.8,535.8 1013.4,522.3 1014.5,516.8 1015,515.1 1015.5,514.2 1016,514.2 1016.6,514.4 1017.1,515.4 1018.1,518.8 1018.7,521.2 1020.2,531.5 1021.8,545.8 1025,583.9 1033.3,709.6 1037,757.3 1039.1,779.8 1041.7,802.8 1043.8,817.1 1046.5,830.6 1049.1,840.1 1050.1,842.9 1051.7,846.4 1053.3,849 1054.9,851 1056.4,852.5 1058.5,853.8 1060.1,854.5 1062.2,855.1 1063.3,855.9 1063.8,856 1096.3,856 1096.3,856" fill="#50BCB6" fill-opacity="0.1" stroke="#50BCB6" stroke-width="3.9" stroke-linejoin="round"/>
<path d="M834.4,856L834.4,856 973.5,856 974.6,855.2 977.7,854.2 980.3,852.7 983,850.2 985.1,847 986.6,843.8 988.2,839.6 989.8,834.2 991.4,827.5 992.9,819.2 994.5,809.2 997.1,788.1 999.8,761.3 1002.4,728.9 1005,691.8 1011.3,596.2 1014.5,555.2 1016.6,534.3 1018.1,523.1 1019.7,516.2 1020.2,515 1020.8,514.2 1021.3,514.2 1021.8,514.2 1022.9,515.7 1023.9,518.6 1025,522.9 1027.1,535.5 1029.2,552.9 1032.8,592 1041.2,697.7 1044.9,739.7 1047,760.6 1049.1,778.7 1051.2,793.7 1053.3,805.4 1055.4,813.6 1056.4,816.5 1058,819.4 1059.1,820.4 1060.1,821 1061.2,821.1 1063.8,820.9 1065.4,821.3 1066.9,822.6 1068.5,824.9 1070.6,829.6 1076.4,845.1 1078.5,849.3 1080.6,852.3 1082.7,854.1 1085.3,855.3 1086.4,856 1096.3,856 1096.3,856" fill="#60BCA0" fill-opacity="0.1" stroke="#60BCA0" stroke-width="3.9" stroke-linejoin="round"/>
<path d="M834.4,856L834.4,856 943.1,856 944.1,855.5 945.2,854.1 950.4,842.7 955.7,834.3 959.3,828.9 960.4,828.4 961.4,828.5 964.6,830.8 965.6,831.2 966.2,831.3 967.2,830.8 968.3,829.3 969.8,824.8 971.9,814.1 977.7,776.2 998.2,653.2 1000.3,636.1 1005,586.3 1009.2,547.2 1012.4,522.2 1013.4,515.6 1013.9,514.2 1017.6,514.2 1018.7,519.5 1019.7,526.9 1021.8,545.2 1042.3,739.7 1044.9,760.6 1047.5,778.8 1050.1,794.3 1052.8,806.8 1054.9,814.4 1055.9,817.5 1057.5,821.1 1059.6,824.6 1066.4,834.8 1073.8,849.2 1075.3,851.9 1076.9,854.1 1078.5,855.5 1080.1,856 1096.3,856 1096.3,856" fill="#70BC8A" fill-opacity="0.1" stroke="#70BC8A" stroke-width="3.9" stroke-linejoin="round"/>
<path d="M834.4,856L834.4,856 972.5,856 976.1,853.6 977.2,852.4 978.2,850.6 979.3,848.3 980.3,845.1 981.9,838.9 983.5,830.8 987.2,808.8 989.3,798.4 990.3,794.6 991.4,791.8 995,785.5 996.6,781.2 998.2,774.1 999.8,763.4 1001.9,743.6 1004,718.3 1006.6,681.3 1012.4,594 1015.5,553.5 1017.6,533.1 1019.2,522.3 1020.2,517.6 1020.8,515.9 1021.3,514.8 1021.8,514.2 1022.3,514.2 1022.9,514.4 1023.9,515.9 1025,518.7 1026,522.8 1028.1,534.5 1030.2,550.5 1032.3,570.1 1034.4,592.5 1042.8,692.8 1047,738.7 1049.1,758.6 1051.2,776 1053.3,790.5 1055.4,801.9 1057.5,809.9 1058.5,812.6 1060.1,815.3 1061.2,816.2 1062.2,816.6 1063.3,816.6 1065.9,816.1 1067.5,816.4 1069,817.7 1070.1,819.2 1071.1,821.3 1072.7,825.4 1076.9,838.6 1079,844.5 1080.6,848 1082.7,851.5 1084.8,853.6 1086.4,854.6 1087.4,855 1088.5,855.9 1096.3,856 1096.3,856" fill="#90B468" fill-opacity="0.1" stroke="#90B468" stroke-width="3.9" stroke-linejoin="round"/>
<path d="M834.4,856L834.4,856 968.3,856 968.8,855.9 969.3,855.4 970.4,853 971.9,846.1 973,839.6 974.6,827.5 977.2,802.6 984.5,725.3 985.6,715.9 986.6,709.9 987.2,708.8 987.7,709.5 988.2,711.7 990.8,729.4 992.4,737.5 993.5,741.1 994,741.5 994.5,740.5 995.6,734.6 996.6,724.8 997.7,712.4 1005.5,611.1 1008.7,576.9 1011.3,553.6 1014.5,528.8 1015.5,522.3 1016.6,517.4 1017.6,514.6 1018.1,514.2 1018.7,514.3 1019.7,516.1 1021.3,522.2 1022.9,531.6 1024.4,544.1 1027.6,576.1 1034.9,661.4 1040.7,719.5 1043.8,748 1046.5,769.1 1049.1,786.5 1051.2,797.1 1052.8,802.9 1054.3,806.8 1055.9,809.3 1060.1,814.1 1061.2,815.8 1062.2,818 1074.3,850.3 1075.3,852.8 1076.4,854.7 1077.4,855.8 1078,856 1096.3,856 1096.3,856" fill="#B0AC58" fill-opacity="0.1" stroke="#B0AC58" stroke-width="3.9" stroke-linejoin="round"/>
<path d="M834.4,856L834.4,856 990.8,856 991.4,855.9 992.4,855 994,854.3 995,853.5 996.6,851.7 997.7,849.9 999.2,846.1 1000.3,842.6 1001.3,838.1 1002.4,832.3 1004.5,816.3 1006.6,793.2 1008.2,770.5 1010.3,733 1016.6,593.2 1018.7,552.8 1019.7,537.1 1020.8,525.1 1021.8,517.4 1022.3,515.2 1022.9,514.2 1023.4,514.2 1023.9,514.9 1024.4,516 1025,517.6 1026,522.4 1027.6,533.2 1029.2,547.9 1032.3,586.8 1039.6,697.3 1043.3,747.1 1045.4,770.9 1047.5,790.7 1049.6,806.1 1051.2,814.4 1052.8,819.9 1053.8,821.9 1054.3,822.5 1054.9,822.7 1055.4,822.7 1056.4,822.1 1059.6,817.8 1060.6,816.8 1061.7,816.7 1062.7,817.6 1063.8,819.6 1065.4,824.4 1069,839.3 1071.1,846.5 1072.2,849.2 1073.2,851.3 1074.3,852.9 1075.3,854 1076.4,854.7 1077.4,855.9 1078,856 1096.3,856 1096.3,856" fill="#C8A458" fill-opacity="0.1" stroke="#C8A458" stroke-width="3.9" stroke-linejoin="round"/>
<path d="M834.4,856L834.4,856 992.9,856 993.5,856 994.5,855.2 996.1,854.7 997.7,853.8 999.2,852.3 1000.8,850.1 1002.4,846.9 1003.4,843.9 1005,837.9 1006.1,832.7 1007.6,822.6 1008.7,814.2 1010.8,792.7 1012.9,764.4 1015,729.4 1021.8,591.3 1023.9,554.5 1025.5,533.3 1026.5,523.2 1027.6,516.7 1028.1,514.8 1028.6,514.2 1029.2,514.2 1029.7,514.9 1030.2,516.6 1031.3,522.3 1032.3,531.1 1033.9,549.5 1036.5,590.7 1042.3,699.5 1044.9,743.7 1046.5,766 1048,784.4 1049.6,798.5 1051.2,808.4 1052.2,812.7 1053.3,815.4 1053.8,816.1 1054.3,816.6 1055.4,816.8 1058,815.9 1059.1,816 1060.1,816.9 1061.2,818.8 1062.2,821.6 1063.3,825.2 1066.9,840.1 1068.5,845.6 1070.6,850.8 1071.7,852.5 1072.7,853.7 1074.3,854.9 1075.3,855.9 1075.9,856 1096.3,856 1096.3,856" fill="#E89C60" fill-opacity="0.1" stroke="#E89C60" stroke-width="3.9" stroke-linejoin="round"/>
<path d="M834.4,856L834.4,856 998.7,856 1001.3,854.4 1002.4,853.3 1003.4,851.6 1005,847.8 1007.1,840.5 1010.3,826.7 1012.4,816.6 1013.4,810.2 1014.5,801.9 1016,783 1017.6,753.8 1019.2,713.1 1022.9,591.7 1024.4,546.9 1025.5,526.1 1026,519.4 1026.5,515.7 1027.1,514.2 1027.6,514.6 1028.1,516 1029.2,521.8 1030.2,531.2 1031.3,543.9 1033.9,587.2 1039.6,705.4 1042.3,752.6 1043.8,775.9 1045.4,794.9 1047,809.3 1048.6,818.9 1049.6,822.7 1050.1,823.9 1051.2,825.1 1052.2,824.9 1054.9,822.7 1055.4,822.5 1055.9,822.6 1056.4,823 1057,823.7 1058.5,827.6 1062.7,844.4 1064.3,849.3 1065.9,852.6 1068.5,855.7 1069,856 1096.3,856 1096.3,856" fill="#F88C68" fill-opacity="0.1" stroke="#F88C68" stroke-width="3.9" stroke-linejoin="round"/>
<path d="M834.4,856L834.4,856 992.9,856 993.5,855.9 994,855.5 994.5,854.7 995.6,852.1 996.6,848.2 997.7,843.2 998.7,836.9 1000.3,823.1 1001.9,803.6 1004,767.8 1015,550.6 1016.6,524.8 1017.6,515.5 1018.1,514.2 1018.7,514.2 1019.7,518.3 1021.3,530.4 1025,572.4 1042.3,745.6 1043.8,758.1 1045.9,772.4 1050.1,798.2 1052.2,808.9 1054.3,816.6 1055.4,818.9 1055.9,819.2 1056.4,819.1 1057,818.6 1059.6,813.8 1060.6,812.6 1061.2,812.5 1061.7,812.9 1062.2,813.9 1064.3,820.4 1069,837.1 1073.2,850.5 1074.3,853.4 1075.3,855.4 1075.9,855.9 1076.4,856 1096.3,856 1096.3,856" fill="#666666" fill-opacity="0.1" stroke="#666666" stroke-width="4.4" stroke-linejoin="round"/>
</g>
<rect x="821.5" y="496.7" width="287.70000000000005" height="375.8" fill="none" stroke="#333333" stroke-width="1.5" shape-rendering="crispEdges"/>
<rect x="821.5" y="451.5" width="287.7" height="45.19999999999999" fill="#D9D9D9" stroke="#333333" stroke-width="1.35"/>
<line x1="821.5" y1="496.7" x2="1109.2" y2="496.7" stroke="#333333" stroke-width="2"/>
<text class="strip" x="965.4" y="483.4" text-anchor="middle">2021</text>
<line x1="814.0" y1="856.0" x2="821.5" y2="856.0" stroke="#222" stroke-width="1.9"/>
<text class="tick" x="807.0" y="865.9" text-anchor="end">0.00</text>
<line x1="814.0" y1="770.55" x2="821.5" y2="770.55" stroke="#222" stroke-width="1.9"/>
<text class="tick" x="807.0" y="780.4" text-anchor="end">0.25</text>
<line x1="814.0" y1="685.1" x2="821.5" y2="685.1" stroke="#222" stroke-width="1.9"/>
<text class="tick" x="807.0" y="695.0" text-anchor="end">0.50</text>
<line x1="814.0" y1="599.65" x2="821.5" y2="599.65" stroke="#222" stroke-width="1.9"/>
<text class="tick" x="807.0" y="609.5" text-anchor="end">0.75</text>
<line x1="814.0" y1="514.2" x2="821.5" y2="514.2" stroke="#222" stroke-width="1.9"/>
<text class="tick" x="807.0" y="524.1" text-anchor="end">1.00</text>
<line x1="834.4" y1="872.5" x2="834.4" y2="880.0" stroke="#222" stroke-width="1.9"/>
<text class="tick" x="833.5" y="905.3" text-anchor="middle">-4</text>
<line x1="923.8" y1="872.5" x2="923.8" y2="880.0" stroke="#222" stroke-width="1.9"/>
<text class="tick" x="922.9" y="905.3" text-anchor="middle">-2</text>
<line x1="1013.2" y1="872.5" x2="1013.2" y2="880.0" stroke="#222" stroke-width="1.9"/>
<text class="tick" x="1013.2" y="905.3" text-anchor="middle">0</text>
<line x1="1102.6" y1="872.5" x2="1102.6" y2="880.0" stroke="#222" stroke-width="1.9"/>
<text class="tick" x="1102.6" y="905.3" text-anchor="middle">2</text>
</g>
<g id="facet-2023">
<clipPath id="cp2023"><rect x="1123.6" y="496.7" width="287.7" height="375.8"/></clipPath><g clip-path="url(#cp2023)" shape-rendering="crispEdges">
<path d="M1136.5,856L1136.5,856 1261.4,856 1262.5,855.7 1263,855.3 1264.6,852.6 1266.2,848.3 1267.7,842.5 1270.9,827.1 1273.5,810.4 1276.1,789.1 1279.3,756.5 1289.3,634.8 1297.1,543.7 1298.7,528.8 1299.8,521.2 1300.8,516.1 1301.3,514.7 1301.9,514.2 1302.4,514.4 1302.9,514.9 1304,517.2 1305,520.6 1306.6,527.6 1318.1,590.9 1324.4,624.3 1329.2,648.7 1333.4,668.8 1336.5,682.3 1340.2,696.5 1350.1,731.5 1357.5,755.8 1363.8,775.2 1370.1,792.7 1376.4,808.5 1379,814.2 1382.2,820.5 1387.9,830.4 1390.6,834.2 1393.2,837.4 1395.8,840.1 1398.4,842.3 1398.4,856Z" fill="#40B0E0" fill-opacity="0.1"/>
<path d="M1136.5,856 1261.4,856 1262.5,855.7 1263,855.3 1264.6,852.6 1266.2,848.3 1267.7,842.5 1270.9,827.1 1273.5,810.4 1276.1,789.1 1279.3,756.5 1289.3,634.8 1297.1,543.7 1298.7,528.8 1299.8,521.2 1300.8,516.1 1301.3,514.7 1301.9,514.2 1302.4,514.4 1302.9,514.9 1304,517.2 1305,520.6 1306.6,527.6 1318.1,590.9 1324.4,624.3 1329.2,648.7 1333.4,668.8 1336.5,682.3 1340.2,696.5 1350.1,731.5 1357.5,755.8 1363.8,775.2 1370.1,792.7 1376.4,808.5 1379,814.2 1382.2,820.5 1387.9,830.4 1390.6,834.2 1393.2,837.4 1395.8,840.1 1398.4,842.3" fill="none" stroke="#40B0E0" stroke-width="3.9" stroke-linejoin="round"/>
<path d="M1136.5,856L1136.5,856 1250.4,856 1251.5,855.6 1252,855.2 1253,853.6 1254.6,849.6 1255.7,845.9 1258.3,833.1 1264.6,797 1271.9,751.3 1274,740.3 1276.7,729.4 1279.8,718.4 1280.9,715.7 1283,711.1 1284.5,706 1286.6,696 1288.7,683.5 1290.3,670.7 1291.9,653.3 1296.6,582.2 1300.3,531.4 1301.3,520.7 1301.9,517 1302.4,514.7 1302.9,514.2 1304,515.5 1305,517.4 1307.6,523.2 1320.2,554.9 1325.5,568.8 1332.8,589.2 1339.6,608.9 1346.5,629.7 1353.3,651.3 1361.2,679.2 1366.9,702.9 1372.2,726.7 1379,763.4 1382.7,779.4 1386.9,795.2 1392.7,815.3 1396.9,828.6 1398.4,832.1 1398.4,856Z" fill="#40B8D4" fill-opacity="0.1"/>
<path d="M1136.5,856 1250.4,856 1251.5,855.6 1252,855.2 1253,853.6 1254.6,849.6 1255.7,845.9 1258.3,833.1 1264.6,797 1271.9,751.3 1274,740.3 1276.7,729.4 1279.8,718.4 1280.9,715.7 1283,711.1 1284.5,706 1286.6,696 1288.7,683.5 1290.3,670.7 1291.9,653.3 1296.6,582.2 1300.3,531.4 1301.3,520.7 1301.9,517 1302.4,514.7 1302.9,514.2 1304,515.5 1305,517.4 1307.6,523.2 1320.2,554.9 1325.5,568.8 1332.8,589.2 1339.6,608.9 1346.5,629.7 1353.3,651.3 1361.2,679.2 1366.9,702.9 1372.2,726.7 1379,763.4 1382.7,779.4 1386.9,795.2 1392.7,815.3 1396.9,828.6 1398.4,832.1" fill="none" stroke="#40B8D4" stroke-width="3.9" stroke-linejoin="round"/>
<path d="M1136.5,856L1136.5,856 1252.5,856 1253,855.8 1253.6,855.4 1256.7,854.6 1258.8,853.8 1262,852 1263.5,850.6 1265.1,848.8 1266.7,846.5 1268.3,843.7 1270.4,838.8 1271.9,834.1 1273.5,828.4 1275.1,821.5 1276.7,813.5 1278.2,804 1280.9,785 1283.5,761.8 1286.6,728.4 1289.8,690.1 1297.1,594.7 1300.8,554.1 1302.9,536.1 1305,523.1 1306.1,518.7 1307.1,515.7 1308.2,514.3 1308.7,514.2 1309.7,514.6 1311.3,516.7 1312.4,519 1313.9,523.8 1316.6,535.2 1319.2,550.4 1321.8,569 1325,594.5 1336.5,699.2 1341.7,742.3 1344.9,764.6 1348,784 1351.2,800.4 1354.3,813.9 1358,826.4 1359.6,830.7 1361.7,835.7 1363.8,839.8 1365.9,843.2 1368,846 1370.1,848.2 1373.2,850.8 1376.9,852.8 1381.1,854.2 1386.4,855.2 1387.4,856 1398.4,856 1398.4,856" fill="#50BCB6" fill-opacity="0.1" stroke="#50BCB6" stroke-width="3.9" stroke-linejoin="round"/>
<path d="M1136.5,856L1136.5,856 1259.3,856 1260.4,855.2 1263,854.5 1265.1,853.7 1268.3,851.8 1269.8,850.3 1271.4,848.6 1274,844.6 1276.7,839.2 1278.8,833.7 1280.9,827.2 1283,819.6 1286.1,806.5 1295,766.4 1304.5,730.6 1306.1,723.3 1307.6,714.7 1309.2,704.3 1310.8,691.9 1313.4,666.2 1316,634.7 1321.3,565.1 1323.9,536.2 1325.5,523.8 1326.5,518.2 1327.6,514.9 1328.1,514.3 1328.6,514.2 1329.2,514.9 1329.7,516.4 1330.7,522.7 1331.8,533 1333.4,555.3 1335.4,595.2 1341.2,722.5 1342.8,752.5 1344.4,778.2 1345.9,799.2 1347.5,815.9 1349.1,828.5 1350.7,837.7 1351.7,842.3 1352.8,845.9 1353.8,848.6 1354.9,850.7 1355.9,852.2 1357.5,853.8 1360.1,855.2 1361.2,856 1398.4,856 1398.4,856" fill="#60BCA0" fill-opacity="0.1" stroke="#60BCA0" stroke-width="3.9" stroke-linejoin="round"/>
<path d="M1136.5,856L1136.5,856 1295,856 1295.6,855.7 1296.6,854.3 1299.8,849 1306.6,838.6 1307.1,838.5 1307.6,839 1309.7,842.6 1310.3,842.8 1310.8,842.4 1311.8,839.3 1314.5,825.6 1315.5,821.1 1316,819.8 1318.1,817.2 1318.7,815.8 1319.2,813.4 1319.7,808.7 1320.8,793.9 1322.3,763.9 1323.9,724 1325.5,672.4 1328.1,554.9 1329.2,524.6 1329.7,516.5 1330.2,514.2 1330.7,517.3 1331.3,524.9 1332.3,551.6 1333.4,589.4 1335.4,686.3 1337,733.1 1337.5,742.1 1338.1,746.4 1338.6,747.9 1339.1,748.8 1339.6,751.2 1341.7,776.7 1343.8,799.2 1345.4,814 1346.5,821.2 1348.6,830.2 1350.7,836.3 1354.9,845.6 1356.4,847.9 1357.5,849 1358,848.9 1359.6,840 1360.1,839 1360.6,841.2 1361.7,848.6 1362.2,849.2 1366.9,835.1 1367.5,835.9 1368,838.4 1369.6,848.3 1371.7,853.8 1372.7,855.6 1373.2,856 1398.4,856 1398.4,856" fill="#70BC8A" fill-opacity="0.1" stroke="#70BC8A" stroke-width="3.9" stroke-linejoin="round"/>
<path d="M1136.5,856L1136.5,856 1244.1,856 1245.2,855.6 1246.7,854.4 1248.3,852.5 1249.4,850.8 1250.4,848.3 1251.5,844.9 1253,838.2 1254.6,829.2 1256.2,817.5 1271.4,667.1 1274,644.6 1277.2,623.8 1279.8,610 1287.2,574.9 1290.8,559 1294,547.1 1297.7,535.7 1301.3,526.9 1304,521.8 1306.6,517.3 1308.2,515.1 1309.2,514.2 1312.9,514.2 1313.4,514.5 1315,516.9 1316,519.1 1318.1,525.1 1320.8,535.5 1328.1,569.8 1336,601 1342.8,625.9 1351.2,651.4 1354.9,666 1358.5,684.1 1362.7,709.4 1365.9,731.4 1371.1,773.9 1374.3,796.9 1376.9,813.8 1378.5,822.1 1379.5,826.6 1381.1,831.8 1382.7,836 1384.8,840.5 1386.9,844 1389.5,847.3 1393.7,851.5 1396.3,853.5 1398.4,854.3 1398.4,856Z" fill="#90B468" fill-opacity="0.1"/>
<path d="M1136.5,856 1244.1,856 1245.2,855.6 1246.7,854.4 1248.3,852.5 1249.4,850.8 1250.4,848.3 1251.5,844.9 1253,838.2 1254.6,829.2 1256.2,817.5 1271.4,667.1 1274,644.6 1277.2,623.8 1279.8,610 1287.2,574.9 1290.8,559 1294,547.1 1297.7,535.7 1301.3,526.9 1304,521.8 1306.6,517.3 1308.2,515.1 1309.2,514.2 1312.9,514.2 1313.4,514.5 1315,516.9 1316,519.1 1318.1,525.1 1320.8,535.5 1328.1,569.8 1336,601 1342.8,625.9 1351.2,651.4 1354.9,666 1358.5,684.1 1362.7,709.4 1365.9,731.4 1371.1,773.9 1374.3,796.9 1376.9,813.8 1378.5,822.1 1379.5,826.6 1381.1,831.8 1382.7,836 1384.8,840.5 1386.9,844 1389.5,847.3 1393.7,851.5 1396.3,853.5 1398.4,854.3" fill="none" stroke="#90B468" stroke-width="3.9" stroke-linejoin="round"/>
<path d="M1136.5,856L1136.5,856 1239.4,856 1241,855.6 1242.5,854.7 1243.6,853.7 1244.6,852.2 1245.7,849.9 1246.7,846.7 1248.3,840.3 1249.9,831.4 1251.5,819.8 1268.8,650.4 1270.9,633.6 1273.5,617.9 1284,567.4 1287.2,554.3 1290.3,543.5 1292.4,537.5 1294.5,532.2 1296.6,527.7 1298.7,523.8 1301.3,519.8 1304,516.6 1306.1,514.8 1307.1,514.3 1307.6,514.2 1310.8,514.2 1311.3,514.4 1313.4,516 1315,517.9 1316.6,520.4 1318.1,523.7 1319.7,527.7 1321.3,532.4 1325,545.7 1329.2,564.1 1336,601.5 1338.1,611.8 1340.7,622.2 1343.3,629.9 1344.9,633.1 1345.9,634.1 1347,634.4 1348.6,633.9 1349.1,633.6 1349.6,632.7 1351.7,626.5 1352.2,625.3 1352.8,624.6 1353.3,624.7 1353.8,625.3 1354.3,626.3 1355.4,629.4 1357.5,639.2 1362.2,667.7 1369,718.4 1376.4,776.2 1379,794.1 1381.6,809 1383.2,816.4 1385.3,824.6 1386.9,829.7 1389,835.3 1391.6,840.8 1394.2,845.1 1396.3,847.8 1397.4,848.7 1398.4,849.2 1398.4,856Z" fill="#B0AC58" fill-opacity="0.1"/>
<path d="M1136.5,856 1239.4,856 1241,855.6 1242.5,854.7 1243.6,853.7 1244.6,852.2 1245.7,849.9 1246.7,846.7 1248.3,840.3 1249.9,831.4 1251.5,819.8 1268.8,650.4 1270.9,633.6 1273.5,617.9 1284,567.4 1287.2,554.3 1290.3,543.5 1292.4,537.5 1294.5,532.2 1296.6,527.7 1298.7,523.8 1301.3,519.8 1304,516.6 1306.1,514.8 1307.1,514.3 1307.6,514.2 1310.8,514.2 1311.3,514.4 1313.4,516 1315,517.9 1316.6,520.4 1318.1,523.7 1319.7,527.7 1321.3,532.4 1325,545.7 1329.2,564.1 1336,601.5 1338.1,611.8 1340.7,622.2 1343.3,629.9 1344.9,633.1 1345.9,634.1 1347,634.4 1348.6,633.9 1349.1,633.6 1349.6,632.7 1351.7,626.5 1352.2,625.3 1352.8,624.6 1353.3,624.7 1353.8,625.3 1354.3,626.3 1355.4,629.4 1357.5,639.2 1362.2,667.7 1369,718.4 1376.4,776.2 1379,794.1 1381.6,809 1383.2,816.4 1385.3,824.6 1386.9,829.7 1389,835.3 1391.6,840.8 1394.2,845.1 1396.3,847.8 1397.4,848.7 1398.4,849.2" fill="none" stroke="#B0AC58" stroke-width="3.9" stroke-linejoin="round"/>
<path d="M1136.5,856L1136.5,856 1266.7,856 1267.2,855.9 1268.3,855.2 1271.4,854.1 1273.5,852.8 1275.1,851.3 1276.1,850 1278.2,846.5 1279.8,842.8 1281.4,837.9 1283,831.6 1284,826.6 1286.6,810.2 1289.3,787.8 1291.4,765.1 1294,730.9 1296.6,691.2 1302.4,597.3 1305.5,553.6 1307.1,536.7 1308.7,524.2 1310.3,516.5 1310.8,515.2 1311.3,514.4 1311.8,514.2 1312.4,514.4 1312.9,514.9 1313.9,516.8 1315,519.8 1316,523.9 1318.1,535.4 1320.2,550.7 1322.3,569.3 1324.4,590.4 1334.4,703.1 1339.1,750.4 1342.3,776.6 1344.9,794.9 1347.5,809.9 1350.7,824.1 1352.2,829.8 1353.8,834.6 1355.4,838.7 1357,842.1 1358.5,844.9 1360.6,847.9 1362.7,850.2 1364.8,851.9 1368.5,853.8 1371.1,854.6 1374.3,855.2 1375.3,856 1398.4,856 1398.4,856" fill="#C8A458" fill-opacity="0.1" stroke="#C8A458" stroke-width="3.9" stroke-linejoin="round"/>
<path d="M1136.5,856L1136.5,856 1277.7,856 1278.2,855.8 1278.8,855.2 1281.4,853.8 1282.4,852.9 1284,851 1285.1,849.3 1286.6,845.6 1287.7,842.3 1289.3,835.7 1290.3,829.9 1292.4,814.7 1294.5,793.3 1296.6,765.2 1298.7,730.3 1305.5,592.4 1307.6,555.4 1309.2,534.1 1310.3,523.9 1311.3,517.1 1311.8,515.2 1312.4,514.4 1312.9,514.2 1313.9,515 1315,516.8 1316,519.7 1317.1,523.7 1319.2,534.4 1321.3,548.6 1323.4,565.9 1326,590.8 1336,698.3 1338.6,724.8 1341.2,748.9 1344.4,774.2 1347,792.1 1349.6,807 1352.8,821.3 1355.9,832.1 1357.5,836.4 1359.6,841.1 1361.2,843.9 1363.3,847 1365.4,849.4 1367.5,851.2 1369.6,852.6 1372.2,853.8 1375.3,854.7 1378.5,855.3 1379.5,855.9 1380.1,856 1398.4,856 1398.4,856" fill="#E89C60" fill-opacity="0.1" stroke="#E89C60" stroke-width="3.9" stroke-linejoin="round"/>
<path d="M1136.5,856L1136.5,856 1288.7,856 1291.4,855.7 1296.6,854.5 1299.8,853.9 1310.8,853.2 1314.5,852.7 1315.5,852.5 1316.6,851.4 1317.6,849.2 1318.7,846.1 1320.8,838.6 1321.8,834 1323.9,822.5 1325.5,810.6 1326,808 1327.1,806.5 1327.6,802.8 1328.1,794.8 1329.2,768.2 1330.7,712.8 1334.9,534.8 1335.4,522.7 1336,515.9 1336.5,514.2 1337,514.2 1337.5,516 1338.1,520.7 1339.1,539.7 1342.3,655.2 1343.8,694.6 1344.9,713.9 1347,741.9 1348,751.3 1350.7,771.1 1354.9,816.1 1356.4,828.1 1358,835.1 1359.1,837.7 1360.1,839 1360.6,839 1361.2,838.4 1363.3,835 1363.8,834.8 1364.3,835.2 1365.4,837.9 1368.5,848.2 1371.1,853.6 1372.7,855.7 1373.8,856 1398.4,856 1398.4,856" fill="#F88C68" fill-opacity="0.1" stroke="#F88C68" stroke-width="3.9" stroke-linejoin="round"/>
<path d="M1136.5,856L1136.5,856 1286.1,856 1287.7,855.5 1290.3,853.7 1291.9,852 1292.9,850.2 1294,847.7 1295,844.3 1297.1,834.5 1298.2,826.5 1299.2,814.7 1301.9,772.8 1310.8,597.3 1312.9,560.8 1314.5,539.7 1315.5,529.1 1316.6,522.1 1317.6,517.4 1318.7,514.4 1319.2,514.2 1319.7,514.4 1320.2,515.5 1321.3,519.7 1322.3,527 1324.4,544.8 1326.5,566 1333.4,643.7 1334.9,659.2 1336,667.4 1337,673.9 1338.6,681.3 1342.8,695.6 1344.4,702.2 1352.8,751.1 1356.4,770.2 1359.6,784.7 1363.3,798.7 1366.9,809.6 1370.1,816.8 1375.9,827 1380.1,833.2 1382.2,835.7 1383.7,837.2 1388.5,841.3 1392.1,844.1 1395.8,846.3 1398.4,847.5 1398.4,856Z" fill="#666666" fill-opacity="0.1"/>
<path d="M1136.5,856 1286.1,856 1287.7,855.5 1290.3,853.7 1291.9,852 1292.9,850.2 1294,847.7 1295,844.3 1297.1,834.5 1298.2,826.5 1299.2,814.7 1301.9,772.8 1310.8,597.3 1312.9,560.8 1314.5,539.7 1315.5,529.1 1316.6,522.1 1317.6,517.4 1318.7,514.4 1319.2,514.2 1319.7,514.4 1320.2,515.5 1321.3,519.7 1322.3,527 1324.4,544.8 1326.5,566 1333.4,643.7 1334.9,659.2 1336,667.4 1337,673.9 1338.6,681.3 1342.8,695.6 1344.4,702.2 1352.8,751.1 1356.4,770.2 1359.6,784.7 1363.3,798.7 1366.9,809.6 1370.1,816.8 1375.9,827 1380.1,833.2 1382.2,835.7 1383.7,837.2 1388.5,841.3 1392.1,844.1 1395.8,846.3 1398.4,847.5" fill="none" stroke="#666666" stroke-width="4.4" stroke-linejoin="round"/>
</g>
<rect x="1123.6" y="496.7" width="287.70000000000005" height="375.8" fill="none" stroke="#333333" stroke-width="1.5" shape-rendering="crispEdges"/>
<rect x="1123.6" y="451.5" width="287.7" height="45.19999999999999" fill="#D9D9D9" stroke="#333333" stroke-width="1.35"/>
<line x1="1123.6" y1="496.7" x2="1411.3" y2="496.7" stroke="#333333" stroke-width="2"/>
<text class="strip" x="1267.4" y="483.4" text-anchor="middle">2023</text>
<line x1="1136.5" y1="872.5" x2="1136.5" y2="880.0" stroke="#222" stroke-width="1.9"/>
<text class="tick" x="1135.6" y="905.3" text-anchor="middle">-4</text>
<line x1="1225.9" y1="872.5" x2="1225.9" y2="880.0" stroke="#222" stroke-width="1.9"/>
<text class="tick" x="1225.0" y="905.3" text-anchor="middle">-2</text>
<line x1="1315.3" y1="872.5" x2="1315.3" y2="880.0" stroke="#222" stroke-width="1.9"/>
<text class="tick" x="1315.3" y="905.3" text-anchor="middle">0</text>
<line x1="1404.7" y1="872.5" x2="1404.7" y2="880.0" stroke="#222" stroke-width="1.9"/>
<text class="tick" x="1404.7" y="905.3" text-anchor="middle">2</text>
</g>
<text class="title" x="1267" y="939.8" text-anchor="middle">Summer log(Yield, mm/day)</text>
<text class="rtitle" transform="translate(749.5,466) rotate(-90)" text-anchor="middle">Scaled density</text>
</g>
</svg>
</body></html>
